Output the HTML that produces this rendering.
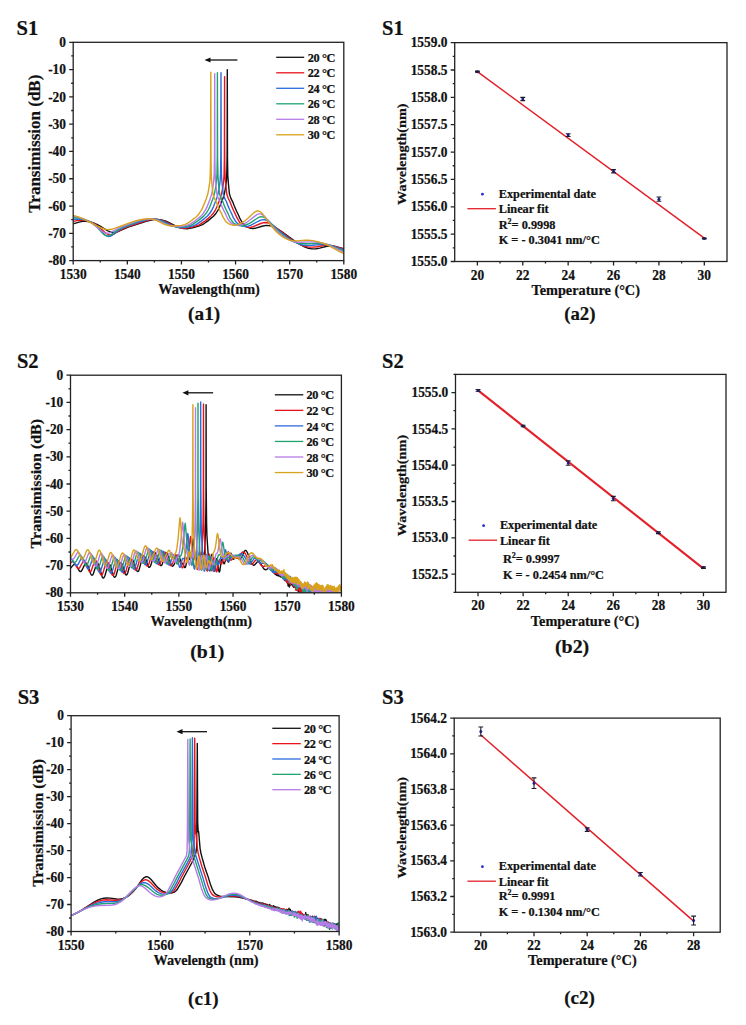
<!DOCTYPE html><html><head><meta charset="utf-8"><style>html,body{margin:0;padding:0;background:#fff;}svg{display:block;} text{font-family:"Liberation Serif",serif;stroke:#111;stroke-width:0.22px;}</style></head><body><svg width="746" height="1025" viewBox="0 0 746 1025" font-family='Liberation Serif, serif' fill="#111">
<rect width="746" height="1025" fill="#fff"/>
<clipPath id="ca1"><rect x="73.20" y="42.30" width="270.60" height="218.30"/></clipPath>
<path d="M73.2 223.8L79.0 222.1L82.7 221.4L86.2 221.3L89.8 221.8L93.2 222.8L96.9 224.4L100.6 226.4L106.9 230.3L109.2 231.5L111.7 232.3L114.1 232.5L115.8 232.3L117.8 231.7L128.2 227.2L147.0 221.1L152.6 219.7L155.1 219.4L157.5 219.4L161.3 219.9L165.2 221.0L168.6 222.5L176.4 226.3L180.2 227.9L183.6 228.6L187.0 228.7L189.7 228.4L192.6 227.8L198.7 226.1L201.8 224.9L203.8 223.8L207.6 221.1L213.5 216.3L215.9 213.5L218.3 209.6L219.6 206.7L222.9 198.6L224.2 194.3L225.2 189.4L226.4 181.1L226.8 173.1L227.1 155.3L227.3 69.6L227.5 157.9L227.8 175.5L228.4 183.5L229.4 193.8L230.4 196.9L231.3 199.2L232.6 201.6L234.3 206.0L236.6 211.3L238.0 214.0L239.6 217.8L241.9 222.0L243.7 224.2L245.8 226.1L248.1 227.4L249.8 228.1L251.0 228.4L252.9 228.5L254.9 228.3L262.9 226.0L266.2 225.4L269.4 225.6L272.9 226.6L276.5 228.3L281.0 231.1L295.8 241.7L300.1 244.5L304.5 246.9L308.4 248.3L312.1 248.9L316.1 248.8L319.7 248.1L326.9 246.2L330.5 245.8L335.0 246.4L343.8 248.6" stroke="#111111" stroke-width="1.40" fill="none" stroke-linejoin="round" clip-path="url(#ca1)"/>
<path d="M73.2 221.4L78.4 220.4L82.4 220.2L86.3 220.6L90.2 221.7L93.7 223.2L96.9 225.3L99.7 227.6L104.7 232.2L106.6 233.7L108.7 234.7L110.7 235.0L112.3 234.7L114.0 234.0L121.7 229.4L126.2 227.3L143.3 221.5L149.7 219.8L152.5 219.4L155.1 219.3L157.7 219.5L160.2 219.9L164.6 221.4L173.0 225.4L177.0 227.0L181.2 228.0L185.2 228.2L187.8 227.9L190.5 227.4L195.9 226.0L199.1 224.8L201.1 223.7L204.9 221.1L210.4 216.6L212.9 213.8L215.5 209.8L216.8 207.0L220.1 198.8L221.6 193.6L222.8 187.5L223.6 181.7L224.1 174.6L224.4 156.9L224.6 76.6L224.6 137.0L224.8 165.6L225.2 178.1L226.3 189.8L226.7 193.8L228.1 198.0L229.9 201.5L231.6 205.9L233.9 211.3L235.3 213.9L236.9 217.7L239.2 221.7L241.1 223.9L243.2 225.5L246.8 227.0L248.7 227.4L250.7 227.2L253.1 226.6L260.8 223.5L263.4 222.7L266.1 222.5L268.7 223.1L271.0 224.2L273.6 225.9L287.5 236.6L294.6 241.5L300.1 244.6L302.6 245.6L305.1 246.4L308.7 247.1L312.8 247.1L317.0 246.7L324.7 245.3L328.6 245.2L333.5 246.0L343.8 249.1" stroke="#e8131b" stroke-width="1.40" fill="none" stroke-linejoin="round" clip-path="url(#ca1)"/>
<path d="M73.2 219.3L78.0 219.0L82.1 219.3L86.3 220.2L90.3 221.8L93.4 223.6L96.3 225.8L98.6 228.1L103.2 233.2L105.0 235.0L107.0 236.1L108.8 236.5L110.3 236.2L111.9 235.5L119.2 230.0L123.7 227.6L128.0 225.9L139.6 221.9L146.8 219.9L149.8 219.4L152.6 219.2L155.4 219.3L158.0 219.7L162.2 221.0L170.5 225.0L174.5 226.5L179.1 227.5L183.6 227.6L186.6 227.3L190.7 226.4L193.6 225.6L195.8 224.7L197.7 223.6L201.5 220.9L207.2 216.3L209.6 213.5L212.1 209.6L213.4 206.7L216.6 198.6L217.9 194.3L218.9 189.4L220.1 181.3L220.5 173.5L220.8 155.9L221.0 72.6L221.2 158.3L221.5 175.9L222.1 183.6L223.2 193.8L224.1 196.9L225.2 199.4L226.4 201.5L228.0 205.9L230.4 211.2L231.8 213.9L233.2 217.4L235.5 221.2L237.3 223.3L239.7 224.9L243.5 226.3L245.8 226.5L248.2 226.1L251.0 225.1L258.7 221.0L260.9 220.1L263.1 219.6L265.1 219.8L267.3 220.7L269.8 222.4L280.2 231.7L287.5 237.5L293.3 241.3L298.2 243.6L302.8 245.0L307.3 245.5L312.1 245.3L322.4 244.4L326.9 244.6L332.2 245.8L343.8 249.9" stroke="#2b6be0" stroke-width="1.40" fill="none" stroke-linejoin="round" clip-path="url(#ca1)"/>
<path d="M73.2 217.6L77.5 217.8L81.5 218.6L85.8 219.9L89.7 221.6L92.6 223.4L95.3 225.6L97.6 227.8L101.9 232.6L103.7 234.3L105.7 235.5L107.6 235.9L109.1 235.7L110.8 234.9L117.9 229.8L122.6 227.3L136.7 222.0L140.8 220.7L144.5 219.8L147.7 219.3L150.7 219.1L153.4 219.1L156.0 219.5L160.0 220.7L168.1 224.6L171.8 225.9L176.7 226.9L181.5 227.1L188.0 226.0L190.5 225.3L192.6 224.4L197.9 220.9L203.7 216.1L206.1 213.3L208.5 209.5L209.8 206.7L213.0 198.6L214.3 194.3L215.3 189.4L216.5 181.2L217.0 173.5L217.3 155.7L217.4 72.8L217.6 158.3L218.0 175.9L218.5 183.6L219.6 193.8L220.5 196.9L221.6 199.4L222.8 201.5L224.4 205.9L226.8 211.2L228.2 213.8L229.6 217.3L231.9 221.0L233.9 223.3L236.4 224.7L240.2 225.7L243.0 225.7L245.8 225.0L248.9 223.7L251.9 221.9L256.9 218.5L258.8 217.4L260.9 216.7L262.8 216.9L264.9 217.8L267.3 219.6L276.3 229.1L282.4 234.7L288.3 238.9L291.0 240.5L293.6 241.7L297.8 243.1L302.3 243.7L306.1 243.8L318.3 243.3L321.6 243.5L324.5 243.8L327.6 244.5L330.8 245.6L343.8 250.9" stroke="#1fa370" stroke-width="1.40" fill="none" stroke-linejoin="round" clip-path="url(#ca1)"/>
<path d="M73.2 216.3L76.9 216.9L80.5 217.9L84.1 219.2L87.7 220.8L90.7 222.5L93.7 224.5L102.5 231.8L104.8 232.9L107.0 233.3L108.6 233.1L110.3 232.5L119.1 227.9L128.9 224.0L137.1 221.1L143.3 219.6L149.2 219.0L151.8 219.0L154.2 219.3L158.0 220.5L165.9 224.2L169.3 225.5L174.2 226.4L179.6 226.5L185.8 225.6L188.0 225.0L190.0 224.2L195.2 220.8L201.0 216.1L203.4 213.2L205.8 209.4L207.0 206.9L210.3 198.4L211.6 194.3L212.6 189.3L213.7 181.2L214.2 173.6L214.5 155.8L214.7 73.7L214.9 158.5L215.2 175.9L215.8 183.7L216.8 193.8L217.8 196.9L218.8 199.3L220.1 201.6L221.6 205.7L224.1 211.2L225.5 213.8L226.8 217.0L227.8 218.9L229.2 221.0L231.2 223.2L233.8 224.6L237.4 225.4L240.3 225.1L243.5 224.1L246.8 222.3L249.6 220.3L254.8 216.1L256.9 214.7L258.9 213.9L260.8 213.9L262.7 214.9L265.0 216.9L273.3 227.1L278.7 232.7L284.2 237.0L286.9 238.7L289.5 240.1L293.4 241.5L297.4 242.2L301.2 242.3L308.8 241.9L312.6 241.9L317.3 242.2L321.7 242.9L325.4 243.9L329.3 245.4L339.9 250.4L343.8 252.1" stroke="#b57ce8" stroke-width="1.40" fill="none" stroke-linejoin="round" clip-path="url(#ca1)"/>
<path d="M73.2 215.3L78.4 216.9L83.8 219.1L88.4 221.3L97.9 226.4L101.5 228.0L105.0 229.2L108.2 229.6L111.4 229.3L115.3 228.2L130.9 222.4L136.3 220.6L141.4 219.5L146.3 218.9L150.6 218.9L154.2 219.6L157.1 220.7L164.4 224.3L168.7 225.5L171.5 225.8L174.6 226.0L181.3 225.4L184.7 224.6L187.4 223.4L191.6 220.5L193.5 218.9L195.5 217.5L197.4 215.8L199.6 213.0L202.0 209.2L206.4 198.4L207.7 194.3L208.7 189.3L209.9 181.1L210.3 173.2L210.6 155.5L210.8 72.3L211.0 158.2L211.3 175.9L211.9 183.6L212.9 193.8L213.9 197.0L214.9 199.3L216.2 201.6L217.8 206.0L220.2 211.2L221.6 213.7L222.9 216.9L225.3 220.7L226.4 222.0L227.6 223.0L229.0 223.9L230.5 224.6L233.9 225.3L235.5 225.2L237.2 224.9L240.8 223.4L244.7 221.0L247.7 218.5L253.0 213.5L255.0 211.9L257.0 211.0L258.0 210.9L258.8 211.0L260.8 212.1L262.9 214.3L270.8 225.3L275.7 231.0L278.2 233.4L280.8 235.5L283.3 237.2L285.8 238.7L289.6 240.2L293.3 240.9L297.1 240.9L305.1 240.2L308.4 240.1L312.7 240.6L317.6 241.6L322.7 243.1L327.5 245.0L331.1 246.9L339.6 251.6L343.8 253.5" stroke="#d8a21a" stroke-width="1.40" fill="none" stroke-linejoin="round" clip-path="url(#ca1)"/>
<path d="M73.20 246.96H71.20M73.20 219.67H71.20M73.20 192.38H71.20M73.20 165.09H71.20M73.20 137.81H71.20M73.20 110.52H71.20M73.20 83.23H71.20M73.20 55.94H71.20M73.20 260.60H69.20M73.20 233.31H69.20M73.20 206.03H69.20M73.20 178.74H69.20M73.20 151.45H69.20M73.20 124.16H69.20M73.20 96.88H69.20M73.20 69.59H69.20M73.20 42.30H69.20M100.26 260.60V262.60M154.38 260.60V262.60M208.50 260.60V262.60M262.62 260.60V262.60M316.74 260.60V262.60M73.20 260.60V264.60M127.32 260.60V264.60M181.44 260.60V264.60M235.56 260.60V264.60M289.68 260.60V264.60M343.80 260.60V264.60" stroke="#222" stroke-width="1.30" fill="none"/>
<rect x="73.20" y="42.30" width="270.60" height="218.30" stroke="#222" stroke-width="1.30" fill="none"/>
<text x="0.0" y="0.0" font-size="13.40" text-anchor="end" font-weight="bold" transform="translate(66.00 265.25) scale(1 1.08)">-80</text>
<text x="0.0" y="0.0" font-size="13.40" text-anchor="end" font-weight="bold" transform="translate(66.00 237.96) scale(1 1.08)">-70</text>
<text x="0.0" y="0.0" font-size="13.40" text-anchor="end" font-weight="bold" transform="translate(66.00 210.68) scale(1 1.08)">-60</text>
<text x="0.0" y="0.0" font-size="13.40" text-anchor="end" font-weight="bold" transform="translate(66.00 183.39) scale(1 1.08)">-50</text>
<text x="0.0" y="0.0" font-size="13.40" text-anchor="end" font-weight="bold" transform="translate(66.00 156.10) scale(1 1.08)">-40</text>
<text x="0.0" y="0.0" font-size="13.40" text-anchor="end" font-weight="bold" transform="translate(66.00 128.81) scale(1 1.08)">-30</text>
<text x="0.0" y="0.0" font-size="13.40" text-anchor="end" font-weight="bold" transform="translate(66.00 101.53) scale(1 1.08)">-20</text>
<text x="0.0" y="0.0" font-size="13.40" text-anchor="end" font-weight="bold" transform="translate(66.00 74.24) scale(1 1.08)">-10</text>
<text x="0.0" y="0.0" font-size="13.40" text-anchor="end" font-weight="bold" transform="translate(66.00 46.95) scale(1 1.08)">0</text>
<text x="0.0" y="0.0" font-size="13.40" text-anchor="middle" font-weight="bold" transform="translate(73.20 278.70) scale(1 1.08)">1530</text>
<text x="0.0" y="0.0" font-size="13.40" text-anchor="middle" font-weight="bold" transform="translate(127.32 278.70) scale(1 1.08)">1540</text>
<text x="0.0" y="0.0" font-size="13.40" text-anchor="middle" font-weight="bold" transform="translate(181.44 278.70) scale(1 1.08)">1550</text>
<text x="0.0" y="0.0" font-size="13.40" text-anchor="middle" font-weight="bold" transform="translate(235.56 278.70) scale(1 1.08)">1560</text>
<text x="0.0" y="0.0" font-size="13.40" text-anchor="middle" font-weight="bold" transform="translate(289.68 278.70) scale(1 1.08)">1570</text>
<text x="0.0" y="0.0" font-size="13.40" text-anchor="middle" font-weight="bold" transform="translate(343.80 278.70) scale(1 1.08)">1580</text>
<path d="M276.2 57.30H304.2" stroke="#111111" stroke-width="1.3"/>
<text x="307.7" y="61.9" font-size="12.30" text-anchor="start" font-weight="bold" textLength="27.6" lengthAdjust="spacing">20 °C</text>
<path d="M276.2 72.80H304.2" stroke="#e8131b" stroke-width="1.3"/>
<text x="307.7" y="77.4" font-size="12.30" text-anchor="start" font-weight="bold" textLength="27.6" lengthAdjust="spacing">22 °C</text>
<path d="M276.2 88.30H304.2" stroke="#2b6be0" stroke-width="1.3"/>
<text x="307.7" y="92.9" font-size="12.30" text-anchor="start" font-weight="bold" textLength="27.6" lengthAdjust="spacing">24 °C</text>
<path d="M276.2 103.80H304.2" stroke="#1fa370" stroke-width="1.3"/>
<text x="307.7" y="108.4" font-size="12.30" text-anchor="start" font-weight="bold" textLength="27.6" lengthAdjust="spacing">26 °C</text>
<path d="M276.2 119.30H304.2" stroke="#b57ce8" stroke-width="1.3"/>
<text x="307.7" y="123.9" font-size="12.30" text-anchor="start" font-weight="bold" textLength="27.6" lengthAdjust="spacing">28 °C</text>
<path d="M276.2 134.80H304.2" stroke="#d8a21a" stroke-width="1.3"/>
<text x="307.7" y="139.4" font-size="12.30" text-anchor="start" font-weight="bold" textLength="27.6" lengthAdjust="spacing">30 °C</text>
<path d="M208.5 60.0H237.4" stroke="#111" stroke-width="1.3"/>
<path d="M204.5 60.0L210.5 57.4L210.5 62.6Z" fill="#111"/>
<text x="16.6" y="35.2" font-size="20.50" text-anchor="start" font-weight="bold" >S1</text>
<text x="209.0" y="294.0" font-size="14.30" text-anchor="middle" font-weight="bold" >Wavelength(nm)</text>
<text x="0.0" y="0.0" font-size="17.00" text-anchor="middle" font-weight="bold" transform="translate(40.2 143.7) rotate(-90)">Transimission (dB)</text>
<text x="188.1" y="320.4" font-size="19.20" font-weight="bold" textLength="32.1" lengthAdjust="spacingAndGlyphs">(a1)</text>
<clipPath id="cb1"><rect x="70.50" y="375.20" width="270.90" height="217.60"/></clipPath>
<path d="M70.5 568.2L73.4 564.9L74.2 564.5L74.9 564.4L75.6 564.8L76.4 565.8L79.3 570.9L80.0 571.5L80.7 571.6L81.3 571.1L82.1 570.0L84.9 564.1L85.6 563.4L86.2 563.3L87.0 563.9L87.7 565.4L90.8 574.0L91.4 575.0L92.1 575.2L92.7 574.8L93.5 573.3L96.4 564.5L97.0 563.5L97.6 563.3L98.2 563.9L99.0 565.6L102.0 576.3L102.7 577.6L103.3 578.1L104.1 577.5L104.9 575.8L107.9 565.5L108.5 564.4L109.2 564.1L109.8 564.6L110.6 566.2L113.5 575.8L114.2 577.0L114.8 577.3L115.5 576.8L116.1 575.5L119.0 565.2L119.8 563.3L120.5 562.6L121.1 562.7L121.9 563.8L124.9 573.2L125.7 574.6L126.1 575.0L126.4 575.0L127.1 574.4L127.7 573.0L130.5 562.8L131.3 560.8L131.9 560.0L132.6 559.9L133.3 560.9L136.4 569.8L137.1 571.2L137.6 571.5L137.9 571.5L138.6 570.9L139.3 569.1L142.0 559.1L142.7 557.3L143.3 556.2L143.6 555.9L144.1 555.9L144.8 556.8L145.7 558.8L148.0 565.7L148.7 567.1L149.2 567.4L149.5 567.4L150.1 566.7L150.9 565.1L153.9 554.7L154.7 553.3L155.3 552.9L156.0 553.4L156.6 554.6L159.5 563.5L160.1 564.9L160.8 565.6L161.4 565.5L162.2 564.4L165.3 554.8L166.1 553.4L166.8 552.9L167.5 553.4L168.1 554.7L170.7 563.6L171.4 565.2L172.0 566.0L172.5 566.2L172.9 566.1L174.0 564.7L175.2 561.9L177.1 556.1L177.7 555.1L178.1 554.9L178.5 555.1L179.0 555.9L181.0 561.9L181.6 562.7L182.9 563.9L184.4 567.1L184.7 567.5L185.0 567.6L185.4 567.2L185.8 566.0L187.2 558.6L187.9 556.4L188.2 556.2L188.5 556.6L189.7 559.5L190.1 559.5L190.5 558.6L191.3 554.1L192.9 540.3L193.2 538.8L193.6 540.6L194.7 554.4L195.4 560.0L195.7 560.9L196.0 560.8L197.2 555.6L197.5 555.0L197.7 555.3L198.3 558.2L199.3 567.5L199.7 569.1L200.0 569.4L200.5 567.0L201.6 555.9L202.2 552.5L202.4 552.3L202.7 553.3L203.6 559.1L203.8 559.2L204.1 558.0L204.6 551.5L205.3 537.3L205.7 520.3L206.0 497.8L206.1 404.8L206.2 486.3L206.6 523.8L206.9 534.8L207.6 546.1L209.0 565.9L209.4 569.4L209.7 570.9L210.0 570.7L210.3 569.1L211.5 556.7L212.0 554.2L212.2 554.4L212.6 555.9L213.8 567.8L214.3 571.2L214.5 571.4L214.6 571.4L215.0 570.3L216.2 560.6L216.5 559.1L216.8 558.6L217.1 559.2L217.4 560.7L218.7 570.4L219.0 571.6L219.3 572.0L219.6 571.6L219.9 570.5L221.2 561.1L221.9 559.1L222.1 559.1L222.4 559.6L223.4 562.8L223.9 563.8L224.3 563.7L224.6 563.1L225.8 559.3L226.3 558.5L226.9 558.8L228.1 561.7L228.4 562.0L228.6 561.9L229.2 560.3L230.3 554.5L230.7 553.3L230.9 553.2L231.2 553.7L232.4 557.9L233.1 559.1L233.5 559.2L233.9 559.0L235.5 556.6L236.3 556.2L237.0 556.7L238.8 558.8L239.3 559.2L239.9 559.1L240.6 558.6L241.4 557.6L244.4 551.2L245.1 550.5L245.7 550.4L246.5 551.0L247.3 552.5L251.2 562.3L252.2 564.1L253.1 565.0L253.7 565.2L254.5 565.0L257.3 562.0L258.1 561.5L258.7 561.5L259.4 561.9L260.1 562.7L263.2 567.9L263.9 568.9L264.7 569.5L265.4 569.7L266.6 569.5L267.4 568.9L267.7 568.9L268.0 568.4L268.1 568.6L268.6 568.0L268.7 568.4L268.8 568.1L269.0 568.2L269.1 567.9L269.7 568.0L269.8 567.9L269.9 568.1L270.0 567.9L270.2 568.3L270.4 567.8L270.7 568.9L270.9 568.6L271.2 569.0L271.5 569.8L271.6 569.2L271.7 570.0L271.9 570.3L272.0 569.8L272.3 570.9L272.4 570.1L272.5 570.4L272.6 570.2L272.9 571.7L273.0 570.8L273.1 571.2L273.2 570.8L273.3 571.9L273.6 572.1L273.7 572.0L273.9 572.7L274.2 572.1L274.3 573.1L274.4 572.7L274.7 573.0L274.8 572.5L275.1 574.3L275.2 573.9L275.4 573.8L275.5 573.3L275.7 574.4L276.1 573.8L276.3 575.2L276.6 574.2L276.7 574.7L277.0 574.4L277.3 574.6L277.5 575.5L277.6 575.6L277.8 575.4L277.9 575.9L278.0 574.9L278.3 575.6L278.6 574.0L278.8 575.3L278.9 574.4L279.0 575.8L279.1 574.5L279.4 576.0L279.6 575.4L279.9 576.4L280.2 575.0L280.3 575.4L280.4 575.1L280.5 576.9L280.7 575.9L280.8 576.6L280.9 575.7L281.0 576.5L281.2 576.0L281.3 577.2L281.5 574.9L281.7 576.3L281.8 575.5L282.0 576.3L282.1 575.1L282.2 576.9L282.5 575.4L282.6 576.7L282.8 575.9L283.1 578.1L283.2 575.6L283.4 577.7L283.5 577.1L283.6 577.5L283.8 574.3L283.9 576.9L284.0 576.2L284.2 577.3L284.3 576.8L284.4 577.3L284.5 580.1L284.8 576.8L284.9 578.7L285.1 577.0L285.4 580.9L285.5 577.2L285.7 580.4L285.8 579.6L286.0 580.0L286.1 578.5L286.2 580.2L286.4 579.3L286.6 580.8L286.7 578.8L286.9 581.5L287.0 579.1L287.1 582.8L287.2 582.9L287.3 581.6L287.5 581.5L287.8 583.9L287.9 582.8L288.0 585.7L288.1 582.0L288.3 586.0L288.4 583.3L288.6 584.9L288.7 583.3L288.8 584.0L289.0 583.6L289.1 585.3L289.3 583.5L289.4 587.1L289.5 582.7L289.8 585.8L289.9 581.8L290.0 583.3L290.1 581.1L290.3 585.2L290.5 582.7L290.6 583.9L290.8 584.2L290.9 579.9L291.2 584.8L291.3 580.6L291.7 583.5L292.0 581.7L292.1 583.4L292.3 582.0L292.5 585.4L292.6 582.1L292.7 586.1L293.0 582.4L293.1 585.7L293.2 581.7L293.4 586.9L293.5 585.0L293.6 586.6L293.7 584.3L293.8 587.4L293.9 583.8L294.0 585.3L294.3 585.5L294.4 583.8L294.5 586.3L294.7 587.3L294.9 584.8L295.0 587.3L295.1 583.8L295.2 586.6L295.5 586.3L295.6 586.7L295.9 582.3L296.1 587.5L296.3 585.4L296.4 587.7L296.8 586.1L296.9 589.2L297.1 587.0L297.2 587.5L297.3 586.6L297.4 588.3L297.6 587.6L297.9 588.5L298.2 591.7L298.3 587.9L298.4 591.0L298.6 589.3L298.8 593.0L298.9 589.6L299.1 592.9L299.4 589.9L299.5 589.5L299.7 591.6L299.8 589.5L300.0 591.7L300.1 589.3L300.3 590.0L300.4 591.7L300.5 590.7L300.7 591.0L300.9 590.6L301.0 590.9L301.2 593.2L301.3 590.1L301.4 590.4L301.5 590.0L301.6 590.9L301.7 589.7L301.8 592.3L302.0 590.3L302.1 591.1L302.2 590.1L302.3 590.3L302.6 594.9L302.7 592.0L302.8 591.2L303.0 591.8L303.1 589.9L303.3 591.3L303.4 590.1L303.6 594.3L303.8 591.0L303.9 591.5L304.0 590.4L304.2 591.3L304.3 594.9L304.4 591.2L304.8 591.9L305.1 591.3L305.2 596.4L305.3 594.5L305.4 595.4L305.5 594.4L305.6 594.6L305.9 595.5L306.0 598.2L306.1 595.5L306.2 596.4L306.3 595.1L306.4 598.0L306.5 594.2L306.7 597.0L306.8 595.0L307.0 596.2L307.3 594.1L307.5 600.4L307.6 595.6L307.7 599.7L307.9 596.1L308.0 598.5L308.2 596.4L308.6 599.6L308.9 595.7L309.0 597.0L309.1 595.8L309.2 599.9L309.3 596.7L309.7 600.9L309.8 597.0L309.9 597.9L310.3 598.5L310.4 599.6L310.5 596.4L310.7 600.3L310.8 595.5L311.0 598.5L311.1 598.3L311.2 599.4L311.4 596.5L311.5 600.4L311.6 600.5L311.7 598.4L311.9 602.1L312.0 598.8L312.1 602.9L312.5 599.0L312.6 603.8L312.7 599.7L312.8 599.9L312.9 599.0L313.0 601.4L313.2 597.3L313.4 604.1L313.7 597.0L313.9 601.4L314.2 597.4L314.3 599.0L314.4 596.1L314.5 598.9L314.6 597.8L314.7 598.6L314.9 599.0L315.0 598.5L315.1 599.1L315.2 595.8L315.5 600.5L315.6 598.7L315.8 600.4L315.9 598.0L316.0 601.5L316.2 599.8L316.3 602.1L316.4 600.0L316.5 602.2L316.6 599.5L316.7 601.6L316.8 600.3L316.9 602.9L317.0 598.2L317.1 600.2L317.2 598.6L317.6 604.7L317.7 600.7L317.8 603.4L317.9 599.8L318.2 605.8L318.4 602.7L318.5 604.1L318.8 603.0L318.9 604.3L319.1 600.6L319.3 609.0L319.5 602.4L319.7 603.9L319.8 601.0L319.9 609.4L320.2 603.6L320.4 602.0L320.5 603.5L320.6 601.5L320.8 605.8L320.9 602.8L321.0 604.9L321.4 603.1L321.5 606.0L321.9 602.5L322.5 607.0L322.7 605.7L322.8 607.6L323.0 608.3L323.1 607.1L323.2 609.1L323.4 606.4L323.5 608.3L323.6 604.5L323.7 608.7L323.8 605.8L324.0 606.9L324.1 605.3L324.4 609.4L324.6 607.7L324.7 610.6L324.8 603.9L324.9 609.2L325.1 605.1L325.3 605.4L325.4 604.5L325.5 606.9L325.6 604.3L325.7 605.5L325.8 604.4L325.9 604.7L326.0 606.3L326.2 604.3L326.3 607.0L326.6 605.3L326.7 607.6L326.8 605.8L327.0 606.9L327.1 605.3L327.3 607.6L327.7 602.6L328.2 607.9L328.3 604.7L328.4 606.0L328.5 605.3L328.7 609.2L329.0 605.2L329.3 607.3L329.4 607.4L329.5 605.7L329.7 609.8L329.9 604.9L330.1 609.6L330.2 606.4L330.3 605.8L330.5 607.3L330.6 604.3L330.7 604.0L330.8 606.5L330.9 601.9L331.1 606.5L331.3 604.8L331.5 606.6L331.8 602.8L331.9 605.5L332.0 603.6L332.1 604.4L332.2 600.8L332.4 605.5L332.5 603.8L332.7 607.7L332.9 606.7L333.2 608.7L333.4 606.4L333.7 611.9L333.8 607.8L333.9 610.7L334.0 608.3L334.2 610.5L334.5 610.3L334.7 612.0L334.8 610.0L334.9 612.9L335.1 611.2L335.2 613.5L335.3 612.6L335.4 614.3L335.5 611.6L335.7 612.3L335.8 611.8L335.9 612.8L336.1 611.9L336.2 613.3L336.3 611.0L336.5 613.0L336.7 610.8L336.8 612.6L337.0 612.4L337.2 608.9L337.3 611.3L337.5 609.9L337.6 609.6L337.7 610.1L337.8 608.4L338.0 611.5L338.1 608.7L338.3 610.8L338.5 607.4L338.8 610.7L339.0 610.0L339.1 611.5L339.2 608.6L339.3 610.2L339.4 608.3L339.7 613.2L339.8 608.2L340.0 610.8L340.1 607.9L340.3 610.1L340.4 607.3L340.7 609.9L341.0 606.9L341.2 611.6L341.4 607.8" stroke="#111111" stroke-width="1.40" fill="none" stroke-linejoin="round" clip-path="url(#cb1)"/>
<path d="M70.5 563.1L71.4 562.2L72.1 561.7L72.8 561.6L73.4 561.9L74.6 563.3L77.2 567.7L78.0 568.4L78.6 568.6L79.3 568.2L80.0 567.3L83.0 561.5L83.7 560.7L84.4 560.7L85.0 561.2L85.8 562.6L88.7 570.6L89.5 571.7L90.1 572.0L90.8 571.5L91.5 570.1L94.4 561.8L95.1 560.8L95.7 560.6L96.4 561.2L97.2 563.0L100.1 573.5L100.7 574.8L101.4 575.3L102.1 574.7L102.9 573.1L105.9 563.0L106.6 561.9L107.2 561.7L107.9 562.3L108.6 563.9L111.6 573.8L112.2 575.0L112.9 575.4L113.5 575.0L114.2 573.7L117.1 563.5L117.9 561.7L118.5 561.0L119.2 561.1L119.9 562.3L122.9 571.8L123.7 573.3L124.1 573.6L124.5 573.6L125.1 573.0L125.8 571.6L128.7 561.2L129.4 559.3L130.1 558.6L130.7 558.7L131.5 559.8L134.4 568.6L135.2 569.9L135.8 570.3L136.5 569.8L137.2 568.2L140.2 557.5L140.9 555.6L141.6 554.7L142.2 554.7L143.0 555.7L146.0 564.5L146.8 565.9L147.4 566.2L148.1 565.7L148.8 564.2L151.7 554.6L152.3 553.0L153.0 552.1L153.3 551.9L153.7 552.1L154.5 553.2L157.6 563.0L158.4 564.5L159.0 564.9L159.8 564.4L160.5 562.8L163.6 553.5L164.2 552.4L164.9 552.1L165.5 552.6L166.2 554.0L168.8 562.8L169.4 564.4L170.1 565.3L170.5 565.5L171.1 565.5L171.6 565.0L172.1 564.3L173.0 562.2L174.9 556.1L175.4 555.1L175.9 554.8L176.7 555.8L178.3 559.6L180.1 562.0L181.8 567.0L182.2 567.8L182.5 567.9L182.9 567.5L183.3 566.2L184.6 559.6L185.3 557.5L185.5 557.3L185.8 557.3L187.0 559.1L187.4 558.9L187.8 557.8L188.6 552.8L190.2 538.2L190.6 536.5L190.9 538.4L192.1 552.6L192.8 558.6L193.1 559.6L193.3 559.7L193.4 559.6L194.5 555.8L194.8 555.2L195.0 555.4L195.5 558.1L196.7 567.9L197.1 569.2L197.3 569.4L197.4 569.2L197.9 566.5L199.0 555.4L199.4 552.5L199.7 552.1L200.0 552.8L201.0 558.9L201.1 559.0L201.2 558.9L201.5 557.7L202.0 551.2L202.6 537.0L203.1 519.6L203.3 497.4L203.5 404.0L203.6 485.7L203.9 523.3L204.3 534.5L204.9 545.4L206.3 565.4L206.7 569.2L207.0 570.9L207.3 571.0L207.6 569.6L208.9 556.5L209.4 554.3L209.6 554.6L210.0 556.3L211.2 567.8L211.6 570.5L211.8 570.7L212.0 570.7L212.3 569.6L213.6 559.6L213.9 558.1L214.2 557.7L214.5 558.3L214.8 559.9L216.1 570.1L216.4 571.4L216.7 571.8L217.0 571.4L217.3 570.3L218.5 562.1L219.1 560.1L219.3 559.9L219.6 560.1L220.8 563.4L221.2 564.0L221.6 563.9L221.9 563.2L223.1 558.8L223.7 557.5L223.9 557.4L224.3 557.8L225.5 560.3L225.8 560.6L226.0 560.4L226.6 558.6L227.6 553.1L228.1 551.7L228.3 551.7L228.5 552.2L230.0 558.8L230.4 559.8L231.0 560.2L231.6 559.8L233.0 557.3L233.8 556.6L234.6 556.7L236.6 558.3L237.4 558.4L238.1 558.0L239.4 556.7L241.9 552.6L242.7 552.0L243.4 551.9L244.4 552.5L245.6 554.2L249.4 562.1L250.8 564.0L251.6 564.4L252.4 564.0L255.5 560.3L256.2 559.8L256.9 559.8L258.1 560.7L260.9 565.0L262.3 566.3L262.9 566.5L263.7 566.5L266.6 565.4L267.1 565.5L267.4 565.4L267.5 565.6L267.8 565.7L267.9 565.5L268.1 565.9L268.3 565.8L268.6 566.2L268.7 566.0L269.1 566.7L269.4 566.8L269.6 567.2L269.8 567.1L270.3 568.3L270.4 568.4L270.5 568.0L270.6 569.2L270.9 568.5L271.0 569.4L271.2 569.4L271.3 569.7L271.4 569.4L271.6 569.3L271.9 570.7L272.2 570.5L272.3 571.5L272.5 570.6L272.9 572.3L273.1 571.5L273.3 572.1L273.5 571.7L273.8 572.9L274.0 572.9L274.1 572.6L274.2 572.7L274.4 572.2L274.7 573.1L274.9 571.5L275.2 572.8L275.3 571.9L275.4 573.0L275.6 572.3L275.8 573.5L276.0 572.7L276.3 573.3L276.4 572.6L276.5 573.4L276.6 572.8L276.7 573.6L276.8 572.6L276.9 572.9L277.1 572.8L277.3 573.5L277.4 572.7L277.6 573.8L277.7 572.0L278.0 574.1L278.2 572.3L278.4 573.1L278.6 572.7L278.7 573.0L278.8 572.7L278.9 574.1L279.0 572.5L279.1 573.6L279.2 571.4L279.4 573.8L279.6 572.5L279.9 573.9L280.0 573.5L280.2 574.6L280.3 573.3L280.4 575.5L280.5 572.8L280.6 574.5L280.7 574.6L280.9 574.2L281.0 575.7L281.2 574.9L281.3 575.2L281.4 574.6L281.5 575.7L281.7 575.9L281.8 574.6L281.9 577.1L282.0 575.8L282.2 577.5L282.6 575.3L282.8 578.3L282.9 576.4L283.1 577.8L283.4 577.2L283.6 577.5L283.8 577.0L283.9 577.1L284.0 579.3L284.1 577.1L284.2 578.8L284.4 577.8L284.5 578.2L284.7 578.3L284.8 577.9L284.9 578.3L285.1 578.0L285.2 578.5L285.4 576.9L285.5 578.1L285.7 578.5L285.8 580.6L286.0 579.6L286.1 581.4L286.2 579.3L286.6 580.3L286.7 578.1L286.8 580.2L286.9 578.3L287.2 582.0L287.3 580.7L287.4 581.6L287.5 580.7L287.7 582.9L288.0 580.8L288.1 582.6L288.3 581.1L288.4 583.4L288.5 579.6L288.6 581.6L288.7 580.0L289.0 581.2L289.2 579.8L289.3 581.8L289.4 580.3L289.7 582.9L289.9 580.0L290.3 584.7L290.4 580.8L290.5 581.4L290.6 581.2L290.7 582.7L290.8 582.3L290.9 583.0L291.1 581.3L291.3 582.3L291.6 580.6L291.9 583.5L292.2 581.3L292.5 584.2L292.6 582.4L292.7 584.4L293.0 581.4L293.2 586.5L293.3 581.8L293.5 584.9L293.6 583.5L293.8 584.6L294.0 582.4L294.2 585.6L294.3 583.7L294.4 586.4L294.5 585.4L294.6 586.9L294.7 585.0L294.8 586.3L295.0 584.0L295.1 586.4L295.2 585.4L295.5 585.5L295.6 589.2L295.8 586.1L295.9 590.2L296.0 587.1L296.2 587.3L296.4 590.4L296.8 585.4L297.0 586.7L297.1 586.3L297.2 586.5L297.5 588.2L297.6 584.6L297.7 589.2L297.8 586.8L298.1 589.9L298.2 583.5L298.3 587.4L298.4 586.2L298.6 589.4L298.7 589.1L298.8 589.4L298.9 588.6L299.1 589.6L299.2 586.2L299.5 591.2L299.6 588.0L299.7 590.8L300.0 586.2L300.2 591.7L300.3 588.9L300.5 590.0L300.7 588.7L300.8 585.0L301.0 590.8L301.1 586.4L301.2 589.9L301.3 588.0L301.5 590.1L301.6 588.7L301.7 591.9L301.8 590.0L302.0 593.4L302.1 591.0L302.3 591.9L302.5 589.7L302.6 590.8L302.7 588.9L302.9 592.2L303.1 589.6L303.4 591.7L303.7 591.3L303.8 593.3L303.9 590.7L304.1 592.7L304.3 589.0L304.6 592.5L304.7 592.9L304.8 591.2L304.9 596.3L305.0 590.5L305.1 593.0L305.2 591.3L305.3 594.2L305.6 591.4L305.9 594.0L306.0 591.6L306.3 596.7L306.5 594.6L306.6 597.9L306.8 593.0L306.9 595.0L307.0 593.9L307.3 596.7L307.4 595.0L307.5 597.2L307.6 592.7L307.7 598.3L307.9 594.6L308.1 596.9L308.4 593.7L308.6 597.8L308.9 593.3L309.0 597.3L309.1 598.0L309.2 595.6L309.4 598.4L309.5 594.6L309.7 598.2L309.8 592.5L309.9 597.1L310.0 594.4L310.4 596.4L310.5 598.9L310.7 594.4L310.8 599.4L311.2 595.3L311.3 597.5L311.4 595.8L311.5 596.2L311.6 598.5L311.8 596.9L312.0 600.1L312.1 597.5L312.3 600.4L312.4 598.5L312.5 598.2L312.6 599.0L312.7 595.5L312.9 596.8L313.0 596.5L313.1 596.7L313.2 596.2L313.3 598.6L313.4 594.6L313.6 597.9L313.7 598.2L313.9 595.4L314.0 596.0L314.1 595.9L314.2 598.0L314.4 598.8L314.5 596.8L314.6 597.6L314.7 596.3L314.9 597.3L315.0 596.1L315.1 597.2L315.2 595.7L315.7 599.5L315.8 596.6L316.0 598.9L316.2 596.3L316.4 599.8L316.6 596.7L316.7 598.5L316.8 598.7L316.9 597.7L317.2 599.7L317.3 598.2L317.5 601.7L317.8 599.1L317.9 600.8L318.0 601.2L318.1 600.9L318.3 596.8L318.4 600.8L318.5 599.3L318.6 600.9L318.9 599.7L319.0 601.2L319.1 599.8L319.3 603.4L319.4 597.1L319.9 605.1L320.2 601.3L320.3 604.9L320.4 600.7L320.6 605.2L320.9 600.2L321.1 602.7L321.4 601.2L321.5 604.8L321.6 600.3L322.1 604.2L322.2 603.5L322.3 603.3L322.4 603.7L322.8 602.2L322.9 603.9L323.0 600.5L323.2 602.5L323.4 600.6L323.6 604.1L323.7 603.0L323.8 603.6L324.0 602.2L324.1 603.2L324.4 598.5L324.6 605.6L324.8 602.5L324.9 603.5L325.0 600.0L325.1 601.2L325.3 598.7L325.7 604.3L325.9 599.3L326.1 603.0L326.3 600.6L326.4 601.3L326.7 601.4L326.8 599.9L326.9 601.1L327.0 598.9L327.1 604.3L327.2 600.6L327.3 604.1L327.5 599.6L327.7 606.1L327.9 601.3L328.0 604.8L328.1 600.9L328.3 605.8L328.6 605.8L328.7 603.2L328.8 604.1L329.2 604.3L329.6 608.2L329.8 604.9L329.9 607.5L330.1 604.9L330.2 607.7L330.3 605.8L330.5 607.2L330.7 606.9L330.8 607.3L330.9 607.0L331.0 607.2L331.1 603.4L331.3 605.8L331.5 601.9L331.6 606.9L332.0 604.7L332.1 605.2L332.2 600.1L332.4 604.4L332.5 603.9L332.6 604.3L332.7 603.8L332.8 602.3L332.9 605.4L333.3 604.1L333.4 606.0L333.7 604.0L333.8 606.7L333.9 605.0L334.0 607.5L334.1 605.1L334.4 604.2L334.6 607.3L334.7 602.8L334.8 608.0L334.9 606.7L335.1 606.7L335.3 608.2L335.9 602.4L336.2 606.6L336.3 604.3L336.4 605.6L336.5 604.2L336.6 606.2L336.8 603.4L337.0 605.8L337.1 602.2L337.3 602.2L337.4 604.4L337.5 603.6L337.6 604.2L337.7 602.3L337.8 602.6L337.9 602.0L338.3 607.3L338.5 603.4L338.7 607.0L339.0 601.7L339.2 605.6L339.4 602.7L339.7 604.2L339.9 602.5L340.0 606.3L340.1 603.8L340.2 606.8L340.4 607.5L340.6 602.6L340.7 605.8L341.0 604.9L341.1 606.3L341.2 606.7L341.3 606.1L341.4 606.4" stroke="#e8131b" stroke-width="1.40" fill="none" stroke-linejoin="round" clip-path="url(#cb1)"/>
<path d="M70.5 558.8L71.3 558.9L72.0 559.5L75.2 564.5L75.9 565.3L76.6 565.5L77.3 565.2L78.1 564.3L81.1 558.6L81.9 558.0L82.5 558.1L83.2 558.7L83.9 560.1L86.8 567.4L87.4 568.4L88.1 568.8L88.8 568.3L89.6 567.0L92.5 559.0L93.3 558.0L93.9 557.9L94.6 558.7L95.3 560.5L98.1 570.5L98.8 571.8L99.4 572.3L100.2 571.8L100.9 570.2L104.0 560.3L104.6 559.3L105.3 559.0L105.9 559.7L106.7 561.4L109.6 571.5L110.4 572.9L111.0 573.3L111.7 572.7L112.3 571.4L115.1 561.7L115.9 559.9L116.6 559.2L117.2 559.4L118.0 560.6L121.0 570.3L121.8 571.8L122.2 572.2L122.5 572.2L123.2 571.6L123.8 570.2L126.7 559.8L127.5 558.0L128.1 557.3L128.8 557.4L129.6 558.5L132.5 567.3L133.2 568.7L133.9 569.1L134.5 568.6L135.3 567.0L138.2 556.3L139.0 554.3L139.6 553.5L140.3 553.4L141.0 554.4L144.1 563.2L144.8 564.5L145.3 564.9L145.6 564.9L146.2 564.3L147.0 562.6L150.1 552.1L150.9 550.9L151.3 550.7L151.7 550.8L152.3 551.6L153.0 553.1L155.8 562.3L156.5 563.6L157.2 564.0L157.8 563.5L158.6 562.0L161.6 552.6L162.3 551.5L162.8 551.2L163.5 551.6L164.1 552.9L166.8 561.7L167.6 563.5L168.3 564.6L168.8 564.9L169.2 564.9L170.0 564.1L170.7 562.2L172.6 556.0L173.1 555.0L173.7 554.8L174.2 555.3L177.1 559.0L177.8 560.8L179.2 566.3L179.6 567.3L179.9 567.4L180.3 567.1L180.7 565.9L181.9 560.5L182.4 558.8L183.0 558.3L183.8 558.9L184.2 558.9L184.5 558.4L184.9 557.1L185.8 551.6L187.5 535.4L187.8 533.5L188.2 535.5L189.3 550.0L190.1 556.4L190.4 557.6L190.7 557.9L191.8 555.2L192.1 555.0L192.3 555.5L192.7 557.7L193.9 567.3L194.2 568.8L194.6 569.1L195.1 566.9L196.3 554.9L196.7 552.4L197.0 552.0L197.3 552.9L198.2 558.6L198.3 558.7L198.4 558.6L198.7 557.4L199.2 550.9L199.9 536.7L200.3 519.6L200.5 497.0L200.7 401.9L200.8 485.1L201.2 523.3L201.5 534.5L202.1 545.7L203.5 565.8L203.9 569.5L204.3 571.1L204.5 571.0L204.9 569.5L206.1 557.4L206.6 554.8L206.8 554.9L207.1 556.3L208.3 567.3L208.9 570.2L209.0 570.4L209.2 570.3L209.5 569.1L210.8 558.8L211.1 557.2L211.4 556.7L211.7 557.3L212.0 559.0L213.4 569.6L213.7 571.0L214.0 571.4L214.5 570.0L215.7 563.0L216.2 561.0L216.5 560.8L216.8 561.0L218.0 564.1L218.3 564.6L218.6 564.5L219.2 563.3L220.4 558.1L220.9 556.6L221.2 556.4L221.6 556.6L222.7 558.6L223.1 558.7L223.4 558.2L223.9 556.3L224.9 550.7L225.3 549.6L225.8 550.6L227.3 558.7L227.8 560.4L228.4 561.0L228.7 561.0L229.0 560.7L230.7 557.8L231.4 557.0L232.2 556.8L234.2 557.2L235.7 556.9L237.0 556.2L239.3 554.3L240.4 553.8L241.2 553.9L242.0 554.2L243.8 555.6L245.1 557.5L247.7 562.5L248.4 563.4L249.2 563.9L249.9 563.9L250.7 563.3L254.0 558.7L254.7 558.2L255.5 558.3L256.6 559.2L258.9 562.1L260.1 563.0L261.4 563.3L264.6 563.1L266.3 563.7L267.6 564.9L268.3 566.3L268.6 566.3L268.9 567.2L269.2 567.6L269.3 567.5L269.7 568.5L269.9 568.4L270.0 569.0L270.2 568.8L270.4 569.6L270.7 569.3L271.1 570.5L271.2 570.3L271.3 570.6L271.4 570.2L272.2 571.8L272.5 571.1L272.6 571.8L272.8 571.6L273.1 571.6L273.2 572.2L273.3 571.6L273.6 571.9L273.8 571.2L274.0 571.6L274.2 571.4L274.3 572.3L274.4 571.5L274.7 572.6L274.8 571.0L275.0 572.0L275.1 571.6L275.3 571.7L275.5 570.9L275.6 571.7L275.7 571.6L275.8 572.2L276.0 571.7L276.1 572.4L276.4 570.8L276.5 572.0L276.7 571.3L276.8 572.1L276.9 570.8L277.1 571.4L277.4 569.9L277.5 571.5L277.7 569.6L277.8 571.3L277.9 570.6L278.1 570.9L278.2 571.8L278.4 571.0L278.6 571.8L278.7 571.0L278.9 572.2L279.2 570.4L279.3 573.1L279.4 572.1L279.5 573.3L279.7 572.9L279.9 573.0L280.0 575.0L280.1 574.0L280.3 574.0L280.4 574.5L280.5 573.5L280.7 575.2L280.8 574.0L281.2 575.5L281.3 574.4L281.4 575.2L281.5 574.4L281.6 575.7L281.8 576.1L282.0 574.9L282.1 576.3L282.2 575.6L282.5 577.1L282.6 576.7L282.7 576.8L282.8 576.1L283.0 578.7L283.3 576.8L283.4 578.3L283.5 576.2L283.8 579.2L283.9 577.2L284.0 579.6L284.1 578.1L284.2 578.3L284.3 577.8L284.4 578.0L284.5 577.0L284.7 578.4L284.8 576.6L284.9 578.5L285.1 577.0L285.4 579.0L285.6 577.6L285.8 577.8L285.9 580.0L286.0 577.2L286.2 578.7L286.5 577.5L286.7 578.6L286.8 577.9L286.9 578.4L287.1 577.7L287.2 577.8L287.3 577.6L287.4 576.5L287.5 578.6L287.7 576.3L287.8 577.3L287.9 576.7L288.1 578.5L288.6 576.1L288.7 578.2L288.8 576.8L289.0 580.5L289.2 577.9L289.3 579.2L289.4 578.4L289.5 579.7L289.7 578.1L289.8 579.1L289.9 578.4L290.0 580.1L290.3 576.9L290.4 577.8L290.5 576.4L290.8 581.0L291.0 580.8L291.1 579.4L291.7 582.3L291.9 579.1L292.2 582.0L292.4 581.3L292.5 582.3L292.6 581.6L292.7 582.5L292.9 582.4L293.0 581.0L293.1 584.2L293.3 584.8L293.4 581.7L293.6 584.6L293.7 582.5L293.8 584.9L293.9 583.4L294.2 585.4L294.4 584.1L294.7 585.7L294.8 583.9L295.0 586.4L295.1 582.7L295.2 583.9L295.3 583.1L295.5 585.5L295.6 583.4L295.7 584.0L295.8 583.2L295.9 584.6L296.0 582.8L296.1 585.4L296.2 582.9L296.3 585.0L296.4 584.4L296.5 584.8L296.6 584.6L296.8 580.6L296.9 581.9L297.0 582.1L297.1 581.9L297.2 585.3L297.3 581.8L297.5 586.1L297.6 583.4L297.8 585.8L297.9 584.6L298.1 584.5L298.4 585.4L298.5 583.7L298.7 587.1L298.8 585.2L299.0 585.4L299.2 583.4L299.4 585.9L299.7 583.3L299.8 585.6L300.0 582.5L300.1 586.3L300.3 585.0L300.5 586.8L300.8 584.5L301.0 585.8L301.1 583.1L301.2 586.0L301.4 585.6L301.6 588.3L302.0 584.1L302.2 586.3L302.3 584.8L302.4 589.0L302.5 586.2L302.6 590.4L302.7 586.9L302.8 589.9L302.9 589.2L303.0 585.6L303.3 590.3L303.4 587.8L303.5 591.5L303.6 590.7L303.7 592.3L304.0 590.1L304.1 590.9L304.2 590.6L304.3 589.2L304.6 592.9L304.7 593.2L304.8 590.1L304.9 592.2L305.0 592.8L305.1 591.9L305.2 595.1L305.3 590.1L305.4 593.9L305.9 589.2L306.4 594.6L306.6 591.6L306.7 594.6L306.8 593.4L306.9 595.7L307.0 594.9L307.3 595.1L307.4 593.8L307.6 596.8L307.7 594.8L307.8 596.2L308.1 595.0L308.2 597.3L308.5 594.3L308.7 597.1L308.9 591.4L309.0 594.1L309.2 593.3L309.3 595.6L309.4 594.4L309.5 595.2L309.8 591.2L309.9 594.6L310.1 593.6L310.2 594.6L310.3 594.3L310.4 592.9L310.5 595.2L310.6 594.8L310.7 596.0L311.0 591.6L311.1 596.2L311.2 591.7L311.3 593.4L311.5 590.2L311.7 594.7L311.8 592.3L312.1 590.5L312.3 595.4L312.4 592.3L312.6 595.5L312.8 591.7L313.0 596.5L313.1 592.4L313.2 596.3L313.3 592.1L313.4 595.9L313.6 592.8L313.7 594.8L313.8 592.6L314.0 596.5L314.1 592.9L314.3 596.9L314.6 593.7L314.7 596.9L315.1 592.8L315.3 598.8L315.5 594.7L315.6 597.2L315.7 596.3L315.8 597.4L315.9 594.4L316.0 597.3L316.2 595.4L316.3 599.0L316.5 595.5L316.6 597.9L316.7 598.6L316.8 598.2L316.9 600.0L317.0 597.2L317.5 600.8L317.6 596.5L317.8 598.7L317.9 596.8L318.1 597.1L318.4 596.6L318.9 600.2L319.0 597.7L319.1 599.9L319.4 596.8L319.5 599.1L319.6 597.7L319.7 600.1L319.9 594.6L320.1 598.2L320.3 597.5L320.4 599.1L320.5 597.7L320.7 600.3L320.9 596.5L321.0 598.8L321.2 596.6L321.6 599.4L321.8 598.1L322.0 599.8L322.1 599.0L322.2 600.1L322.3 597.5L322.4 598.9L322.5 597.9L322.7 599.5L322.8 598.5L322.9 599.8L323.1 595.4L323.3 598.0L323.4 595.4L323.5 600.6L323.8 595.6L324.1 599.0L324.3 595.1L324.4 597.1L324.5 593.8L324.9 596.5L325.0 595.3L325.1 596.6L325.3 594.6L325.4 597.7L325.5 597.1L325.8 597.8L325.9 600.4L326.1 597.8L326.2 598.2L326.3 595.7L326.4 597.6L326.6 595.0L326.7 598.8L326.8 595.7L327.0 599.7L327.1 598.7L327.2 599.5L327.3 599.6L327.4 598.6L327.5 599.4L327.6 598.9L327.7 599.4L327.9 596.0L328.1 600.6L328.2 599.0L328.3 599.3L328.4 599.2L328.5 595.6L328.6 601.3L328.7 599.2L328.8 601.6L329.0 596.8L329.4 602.5L329.5 599.8L329.7 601.8L329.9 598.7L330.0 598.3L330.1 598.8L330.2 598.4L330.5 603.0L330.6 600.3L330.7 601.6L330.8 601.9L330.9 601.4L331.1 602.6L331.2 600.8L331.5 604.9L331.6 604.1L331.9 604.5L332.0 602.9L332.1 604.4L332.3 602.1L332.4 607.9L332.5 603.1L332.6 603.0L332.7 603.4L332.8 601.9L333.1 604.1L333.2 602.8L333.4 602.9L333.5 602.6L333.6 603.1L333.8 600.1L333.9 603.8L334.0 597.3L334.2 602.0L334.6 598.2L334.7 600.1L334.8 597.1L334.9 600.7L335.1 599.1L335.3 601.6L335.5 600.7L335.7 601.5L335.8 601.0L335.9 601.7L336.0 599.8L336.1 601.4L336.2 600.1L336.3 601.8L336.4 599.3L336.7 603.7L336.8 602.4L337.0 602.5L337.1 601.9L337.2 603.8L337.3 604.2L337.5 603.2L337.6 603.4L337.7 605.0L337.8 602.0L337.9 604.7L338.0 603.0L338.1 603.8L338.3 599.7L338.4 602.1L338.6 599.6L338.7 603.1L338.9 604.3L339.0 602.0L339.2 606.0L339.3 600.3L339.4 603.8L339.6 602.9L339.8 604.4L339.9 603.2L340.0 603.5L340.3 607.5L340.4 604.0L340.5 604.5L340.6 603.2L341.0 606.2L341.3 603.6L341.4 604.7" stroke="#2b6be0" stroke-width="1.40" fill="none" stroke-linejoin="round" clip-path="url(#cb1)"/>
<path d="M70.5 557.2L73.3 561.6L74.1 562.3L74.8 562.4L75.5 562.0L76.2 561.1L79.1 556.0L79.8 555.3L80.6 555.3L81.2 555.9L82.0 557.3L84.8 564.3L85.6 565.4L86.2 565.6L86.9 565.2L87.6 563.9L90.5 556.2L91.3 555.3L92.0 555.2L92.6 555.9L93.4 557.7L96.3 567.6L96.9 568.9L97.6 569.3L98.2 568.8L99.0 567.2L101.9 557.7L102.7 556.4L103.3 556.2L104.0 556.9L104.7 558.7L107.7 569.0L108.4 570.4L109.1 570.8L109.7 570.3L110.5 568.8L113.5 558.7L114.3 557.4L114.9 557.2L115.6 557.9L116.3 559.6L119.2 568.9L119.9 570.3L120.6 570.6L121.2 570.1L121.9 568.7L124.8 558.4L125.4 556.8L126.1 556.0L126.7 556.0L127.5 557.0L130.5 566.1L131.3 567.5L131.7 567.8L132.0 567.8L132.7 567.2L133.5 565.5L136.2 555.4L136.8 553.6L137.5 552.4L137.8 552.2L138.2 552.1L139.0 553.0L139.9 555.0L142.1 561.8L142.9 563.1L143.3 563.4L143.6 563.4L144.3 562.8L145.1 561.1L148.1 550.9L148.7 549.6L149.4 549.2L150.0 549.6L150.7 550.8L153.5 560.1L154.3 561.9L154.9 562.6L155.2 562.7L155.7 562.5L156.4 561.3L159.5 552.0L160.2 550.6L160.9 550.2L161.5 550.8L162.2 552.0L165.1 561.0L165.9 562.7L166.5 563.7L167.2 563.8L167.8 563.1L170.2 555.8L170.8 554.7L171.5 554.4L173.8 554.9L174.4 555.6L175.2 557.6L176.6 563.1L177.0 563.9L177.3 564.1L177.7 563.8L178.1 562.8L179.7 557.0L180.2 556.2L181.2 555.0L182.1 552.0L183.2 544.0L184.8 525.5L185.2 523.3L185.5 525.3L186.8 541.1L187.6 548.8L188.3 551.2L188.5 551.5L189.2 551.6L189.6 552.4L191.3 563.7L191.8 565.2L192.1 565.3L192.6 563.3L193.7 554.0L194.1 551.8L194.4 551.7L194.6 552.1L195.5 557.7L195.8 557.8L196.0 556.7L196.6 550.5L197.2 536.6L197.6 519.6L197.9 497.1L198.0 403.2L198.1 485.9L198.5 523.7L198.9 534.8L199.5 546.4L200.9 565.2L201.3 568.7L201.7 570.2L201.9 570.1L202.3 568.6L203.5 557.2L204.0 555.1L204.2 555.4L204.5 556.9L205.7 567.4L206.3 569.7L206.6 569.4L206.9 568.2L208.1 558.1L208.7 555.9L209.0 556.2L209.3 557.4L210.6 567.4L211.2 570.0L211.5 569.9L211.8 569.1L213.1 562.6L213.6 561.1L213.9 561.0L214.2 561.3L215.4 564.3L215.7 564.5L215.9 564.4L216.6 562.7L217.8 557.0L218.3 555.2L218.8 554.6L219.7 554.8L220.0 554.7L220.6 553.6L221.2 550.5L222.3 543.3L222.5 542.5L222.7 542.3L223.2 543.8L225.0 556.1L225.7 558.5L226.3 559.4L227.0 559.2L228.4 557.4L229.1 556.7L232.1 555.8L236.7 555.3L240.5 555.9L241.6 556.3L242.5 557.1L245.8 562.8L246.7 563.7L247.5 563.9L248.2 563.6L249.0 562.8L252.2 557.6L253.2 556.9L254.2 556.9L255.0 557.4L257.5 559.4L258.9 560.2L260.6 560.8L263.3 561.3L264.6 562.0L266.1 563.7L267.5 565.9L268.4 567.7L268.5 567.4L268.8 568.0L269.0 568.0L269.3 568.8L269.6 568.7L269.7 569.1L269.9 568.8L270.2 569.3L270.4 569.5L270.5 569.4L270.6 569.9L271.0 568.9L271.2 569.9L271.5 569.3L271.6 570.0L271.7 569.7L271.8 570.1L272.2 569.3L272.3 570.0L272.4 569.0L272.7 569.8L273.0 569.1L273.1 569.3L273.2 568.8L273.6 569.8L273.7 569.3L273.9 569.4L274.1 569.1L274.2 569.6L274.3 569.2L274.8 569.2L274.9 568.4L275.0 569.3L275.2 567.9L275.3 569.5L275.5 569.9L275.7 568.7L276.0 570.0L276.2 570.2L276.3 569.9L276.5 570.3L276.6 570.1L276.8 570.4L276.9 569.7L277.1 571.0L277.4 569.6L277.5 570.9L277.7 570.3L277.8 571.7L277.9 571.3L278.1 572.4L278.2 572.1L278.3 572.3L278.4 571.7L278.7 571.5L278.8 572.9L279.1 572.1L279.3 573.7L279.4 572.9L279.6 574.4L280.0 573.7L280.1 574.7L280.3 573.6L280.4 574.6L280.5 573.9L280.6 574.7L280.7 574.1L280.8 575.4L280.9 574.8L281.2 574.5L281.3 574.9L281.4 574.5L281.6 576.3L281.8 576.1L281.9 577.0L282.1 575.8L282.5 576.8L282.6 576.1L282.8 577.0L283.0 576.3L283.3 576.6L283.4 575.6L283.8 578.5L284.1 575.1L284.2 577.1L284.4 577.5L284.5 575.2L284.7 574.8L284.8 576.2L284.9 574.1L285.3 576.5L285.4 574.3L285.5 576.1L285.6 575.1L285.7 577.7L285.8 574.8L286.0 576.6L286.2 574.0L286.5 576.2L286.6 574.9L286.7 576.1L286.8 575.8L286.9 575.9L287.1 576.8L287.2 576.0L287.5 579.7L287.7 574.6L287.9 578.1L288.0 576.5L288.2 578.6L288.4 576.8L288.5 580.4L288.6 578.4L288.7 578.2L288.8 578.3L289.0 580.1L289.2 578.3L289.4 582.9L289.7 578.2L289.9 581.8L290.5 577.4L290.6 582.8L290.8 578.1L291.0 581.1L291.1 578.9L291.4 581.0L291.6 579.1L291.7 580.2L291.9 579.0L292.0 582.2L292.1 580.3L292.3 582.3L292.4 580.1L292.5 582.6L292.7 578.4L293.3 582.6L293.4 581.6L293.5 582.1L293.6 581.6L293.8 582.7L293.9 585.0L294.0 581.9L294.3 585.3L294.5 581.3L294.6 584.7L294.7 582.6L294.9 584.4L295.0 583.9L295.2 585.0L295.5 583.4L295.7 584.1L296.0 587.3L296.1 582.9L296.3 588.7L296.4 585.6L296.8 588.6L296.9 584.2L297.2 586.2L297.3 583.5L297.5 584.2L297.6 589.0L297.7 583.2L297.8 587.1L297.9 584.4L298.1 585.5L298.2 583.6L298.3 584.5L298.4 582.0L298.5 585.3L298.6 582.2L298.7 584.3L298.8 584.5L298.9 584.3L299.0 585.8L299.1 582.9L299.2 584.2L299.5 583.0L299.6 584.5L299.8 583.9L299.9 584.4L300.0 582.0L300.4 586.8L300.5 583.1L300.7 584.0L300.8 583.1L300.9 583.2L301.3 587.2L301.4 583.9L301.5 587.3L301.6 585.2L301.7 588.9L301.8 584.9L302.1 587.2L302.2 585.4L302.6 589.8L302.7 587.7L302.8 591.5L302.9 587.3L303.1 590.3L303.4 591.0L303.5 588.6L303.7 591.8L303.8 589.3L303.9 592.2L304.1 586.9L304.4 592.7L304.7 591.5L304.8 591.7L305.0 589.7L305.1 591.7L305.2 588.7L305.3 588.3L305.4 589.0L305.5 587.4L305.6 591.1L306.1 588.3L306.2 588.9L306.3 588.3L306.4 590.9L306.5 590.7L306.6 588.2L306.7 591.9L306.9 588.2L307.3 591.9L307.4 589.3L307.5 590.1L307.6 588.6L307.8 591.4L308.0 588.7L308.1 589.1L308.2 588.3L308.4 590.8L308.5 589.6L308.6 590.7L308.8 586.8L308.9 589.6L309.2 586.6L309.5 589.2L309.8 587.2L309.9 589.6L310.2 585.5L310.3 590.3L310.4 586.8L310.6 589.7L310.7 586.9L311.0 590.8L311.2 586.0L311.4 591.1L311.5 588.4L311.7 590.5L311.8 589.1L311.9 590.2L312.0 587.5L312.4 593.1L312.7 589.7L312.8 591.2L312.9 589.6L313.1 595.7L313.3 592.1L313.6 593.6L313.7 591.9L313.9 595.8L314.0 591.6L314.1 591.2L314.2 593.8L314.4 591.5L314.5 593.0L314.6 590.2L314.7 593.3L314.9 592.6L315.1 593.3L315.2 591.0L315.3 594.6L315.4 592.0L315.5 593.8L315.6 591.3L315.8 592.0L315.9 591.8L316.0 593.4L316.3 591.6L316.4 591.7L316.5 594.6L316.6 591.5L316.9 595.1L317.0 591.0L317.2 594.0L317.3 594.2L317.5 594.0L317.6 594.5L317.7 593.9L317.9 594.8L318.2 593.0L318.3 590.2L318.5 595.2L318.6 592.2L319.0 594.2L319.2 590.3L319.3 592.7L319.4 590.9L319.5 592.8L319.6 592.1L319.7 593.3L319.8 591.4L320.2 595.2L320.4 592.5L320.5 594.6L320.6 592.5L320.8 595.0L321.1 591.2L321.4 597.4L321.6 594.6L321.9 596.3L322.0 593.3L322.1 595.1L322.2 592.4L322.3 595.0L322.8 591.9L323.0 595.7L323.2 592.4L323.3 593.7L323.4 592.2L323.6 595.8L323.7 593.8L324.0 599.1L324.1 592.8L324.4 593.3L324.6 597.0L325.0 594.7L325.3 596.3L325.6 595.5L325.7 597.5L325.8 595.2L325.9 596.7L326.1 596.1L326.3 598.5L326.4 594.5L326.7 596.6L327.0 596.4L327.1 594.5L327.2 597.2L327.3 594.8L327.4 597.3L327.6 595.1L327.7 596.9L327.9 596.5L328.2 597.6L328.3 597.0L328.4 597.5L328.5 593.6L328.6 597.8L328.7 596.4L328.8 598.5L328.9 594.8L329.3 599.3L329.9 595.1L330.0 598.0L330.1 595.3L330.5 599.8L330.6 596.3L330.9 599.3L331.2 595.1L331.5 594.4L331.6 595.7L332.0 592.3L332.2 593.2L332.4 598.2L332.7 594.2L332.8 599.5L333.1 594.0L333.4 596.7L333.5 594.7L333.7 596.3L333.8 592.7L334.0 596.6L334.1 597.1L334.2 595.4L334.5 597.1L334.7 595.7L334.8 597.9L335.0 595.6L335.1 596.5L335.3 593.8L335.4 597.5L335.5 594.4L335.7 595.3L335.8 594.9L335.9 593.1L336.1 595.6L336.2 593.1L336.4 595.3L336.5 593.7L336.6 594.2L336.7 593.4L337.0 595.0L337.1 592.0L337.3 597.5L337.4 593.6L337.5 597.3L337.7 595.4L337.9 597.0L338.0 597.4L338.1 597.3L338.4 595.3L338.6 600.7L338.9 598.3L339.0 599.6L339.1 595.3L339.2 598.7L339.3 597.1L339.4 596.6L339.6 597.4L339.7 596.2L339.8 599.1L339.9 598.5L340.1 600.3L340.2 596.6L340.4 599.2L340.5 598.5L340.6 599.3L340.7 597.3L340.9 599.0L341.1 594.4L341.2 599.9L341.3 599.7L341.4 600.0" stroke="#1fa370" stroke-width="1.40" fill="none" stroke-linejoin="round" clip-path="url(#cb1)"/>
<path d="M70.5 557.4L72.0 559.1L72.7 559.3L73.3 559.1L74.4 557.9L77.0 553.3L77.8 552.5L78.5 552.5L79.2 553.0L79.9 554.2L83.0 561.4L83.7 562.3L84.4 562.5L85.0 561.9L85.8 560.6L88.6 553.5L89.2 552.6L89.9 552.5L90.7 553.2L91.4 554.9L94.4 564.6L95.1 565.7L95.7 566.1L96.4 565.5L97.2 563.9L100.0 554.7L100.7 553.4L101.4 553.3L102.0 554.0L102.8 555.8L105.7 566.2L106.5 567.8L107.1 568.2L107.8 567.7L108.5 566.2L111.6 556.4L112.2 555.3L112.9 555.0L113.5 555.5L114.3 557.2L117.3 567.4L118.0 568.5L118.6 568.9L119.3 568.4L119.9 567.1L122.8 557.0L123.6 555.2L124.4 554.5L125.0 554.8L125.8 556.1L128.9 565.6L129.8 566.6L130.1 566.6L130.5 566.3L131.2 565.2L131.8 563.3L134.5 553.3L135.3 551.6L135.9 551.0L136.6 551.2L137.4 552.4L139.6 559.2L140.5 561.2L141.3 562.1L141.9 562.0L142.6 561.0L143.2 559.4L146.0 549.5L146.8 548.0L147.4 547.6L148.1 548.0L148.7 549.2L151.7 558.8L152.3 560.3L153.0 561.1L153.3 561.2L153.7 561.1L154.5 560.0L157.4 551.1L158.2 549.7L158.8 549.3L159.6 549.8L160.3 551.3L163.3 560.3L163.9 561.9L164.4 562.7L164.8 562.9L165.1 562.9L165.7 562.0L167.6 556.5L168.5 554.7L169.2 554.0L171.4 552.7L171.9 553.1L172.4 554.0L174.1 561.1L174.5 562.2L175.0 562.5L175.6 561.6L177.1 557.0L178.8 554.6L179.5 551.9L180.6 543.6L182.3 524.5L182.6 522.2L183.0 524.3L184.2 540.1L185.1 547.9L185.7 550.3L186.0 550.8L186.7 551.1L187.1 552.2L188.7 563.1L189.2 564.7L189.4 565.1L189.6 565.0L190.1 562.9L191.2 553.8L191.6 551.9L191.9 551.9L192.1 552.5L193.0 557.6L193.2 557.7L193.5 556.6L194.0 550.4L194.7 536.8L195.1 519.7L195.3 497.7L195.5 407.8L195.6 487.1L196.0 523.8L196.3 534.5L196.9 545.7L198.3 564.7L198.7 568.4L199.1 570.0L199.3 570.0L199.7 568.8L200.9 558.0L201.4 555.6L201.6 555.7L201.9 557.1L203.1 567.3L203.7 569.8L204.0 569.5L204.3 568.1L205.6 557.8L206.2 555.4L206.5 555.7L206.8 556.9L208.0 566.5L208.7 569.1L209.0 569.1L209.3 568.4L210.5 562.7L211.0 561.3L211.3 561.2L211.6 561.5L212.8 564.5L213.1 564.7L213.4 564.5L214.1 562.5L215.7 554.9L216.2 553.7L217.4 552.7L218.0 551.2L219.7 539.9L220.1 538.7L220.7 540.6L222.6 554.6L223.4 557.5L224.2 558.6L224.9 558.4L226.6 556.8L229.5 554.6L230.4 554.3L231.4 554.4L233.0 555.1L236.2 557.0L237.2 557.1L239.1 556.9L240.1 557.3L241.3 558.6L244.0 563.3L244.7 564.1L245.5 564.3L246.3 563.9L247.0 563.0L249.7 557.9L250.9 556.2L252.2 555.3L253.6 555.3L255.1 556.2L258.6 559.0L259.6 559.4L261.8 559.8L262.9 560.5L264.4 562.2L266.4 565.8L267.7 567.4L267.8 567.3L267.9 567.6L268.1 567.4L268.3 567.9L268.5 567.5L268.7 567.6L268.8 568.0L269.2 568.0L269.4 568.3L269.6 567.9L269.7 568.2L269.8 568.1L269.9 568.2L270.0 567.8L270.2 568.2L270.3 567.6L270.4 568.0L270.6 567.5L270.9 567.8L271.1 567.3L271.3 568.0L271.5 567.8L271.7 567.0L271.8 567.7L271.9 567.3L272.0 567.6L272.4 566.3L272.7 567.9L272.8 567.3L273.1 568.0L273.2 567.7L273.3 568.0L273.5 567.0L273.6 567.9L273.7 567.7L273.8 567.9L273.9 567.7L274.1 567.7L274.3 568.8L274.5 568.2L274.9 568.9L275.0 567.7L275.2 569.6L275.4 568.4L275.5 568.6L275.6 568.2L275.7 569.1L275.8 568.8L276.1 569.1L276.2 568.5L276.4 569.4L276.5 569.5L276.6 569.0L276.7 570.9L276.8 569.2L276.9 569.5L277.0 568.9L277.1 570.6L277.3 570.5L277.4 570.8L277.5 570.0L277.6 570.7L277.7 570.0L278.0 572.3L278.1 571.5L278.4 571.5L278.6 572.7L278.7 571.9L278.9 573.2L279.1 572.2L279.5 574.5L279.6 573.4L279.7 574.2L280.0 573.5L280.3 574.6L280.5 572.9L280.7 573.7L280.9 573.8L281.0 575.4L281.2 573.3L281.3 574.6L281.4 573.4L281.5 575.2L281.6 574.7L281.7 575.2L281.9 574.2L282.1 575.2L282.2 575.0L282.3 576.1L282.5 574.0L282.6 576.0L282.8 573.7L282.9 574.7L283.0 572.7L283.2 573.3L283.3 575.2L283.4 574.3L283.5 574.9L283.6 573.8L283.8 575.0L283.9 574.1L284.0 575.3L284.3 573.1L284.4 573.9L284.5 573.6L284.6 574.1L284.7 572.8L285.2 573.8L285.5 575.6L285.7 574.0L285.8 575.8L285.9 574.7L286.0 575.3L286.1 575.2L286.2 575.5L286.4 575.1L286.5 576.3L286.6 575.2L286.9 577.4L287.0 577.0L287.1 577.5L287.2 577.1L287.3 575.4L287.5 577.6L287.8 576.7L287.9 578.0L288.2 577.9L288.4 578.4L288.5 579.6L288.6 578.6L288.7 579.0L288.8 577.2L289.0 580.8L289.1 579.9L289.3 580.2L289.5 579.2L289.7 582.0L289.8 578.0L290.1 582.0L290.4 578.7L290.5 581.1L290.6 578.3L290.8 580.2L290.9 579.1L291.0 580.1L291.1 578.5L291.2 581.3L291.4 578.8L291.7 583.1L292.0 578.9L292.1 580.0L292.2 579.6L292.4 583.0L292.5 581.3L292.6 582.7L292.7 579.4L293.0 582.4L293.1 580.3L293.3 581.2L293.5 579.8L293.8 583.6L294.0 580.4L294.3 580.6L294.4 580.3L294.5 579.4L294.7 583.4L294.8 580.8L295.0 583.2L295.1 581.8L295.2 583.1L295.5 577.8L295.6 581.6L295.8 582.8L295.9 581.3L296.0 582.2L296.1 580.9L296.3 584.9L296.4 581.0L296.6 583.8L297.0 580.5L297.2 583.0L297.3 579.5L297.4 583.3L297.5 583.8L297.6 582.6L297.8 583.1L297.9 582.5L298.1 586.1L298.3 583.7L298.4 585.3L298.5 583.5L298.6 586.1L298.8 583.3L298.9 583.5L299.0 583.3L299.2 581.8L299.5 582.3L299.6 583.7L299.7 583.2L299.8 584.4L299.9 581.8L300.1 586.9L300.2 583.7L300.3 583.8L300.4 583.4L300.5 582.0L300.7 583.7L300.8 582.5L301.1 583.5L301.3 586.3L301.4 583.9L301.6 584.4L301.7 586.5L301.8 584.5L302.1 587.1L302.2 586.6L302.3 587.6L302.4 586.0L302.5 588.4L302.7 585.9L302.9 587.6L303.0 586.0L303.3 588.8L303.5 585.6L303.7 584.8L303.8 586.8L304.0 584.6L304.1 587.3L304.3 584.3L304.6 586.8L304.7 584.1L304.8 585.8L304.9 584.2L305.0 584.9L305.1 588.0L305.2 584.3L305.3 587.0L305.5 588.5L305.6 587.4L305.7 588.7L306.1 585.3L306.2 586.6L306.3 585.1L306.4 588.1L306.5 587.8L306.6 588.8L306.8 587.8L306.9 591.6L307.4 586.2L307.5 588.4L307.6 588.0L307.8 589.6L307.9 584.2L308.1 586.3L308.2 582.7L308.4 588.3L308.5 585.8L308.8 588.4L308.9 585.3L309.1 587.3L309.3 584.5L309.5 588.5L309.7 588.7L309.8 588.4L309.9 585.3L310.2 588.8L310.6 586.3L310.7 588.3L310.8 585.2L311.0 589.9L311.2 586.9L311.3 589.4L311.4 585.9L311.6 591.1L311.8 587.7L311.9 588.0L312.0 587.7L312.3 589.9L312.5 586.7L312.7 589.4L312.8 587.7L312.9 590.3L313.1 588.7L313.4 592.7L313.8 588.7L314.1 592.0L314.2 588.1L314.3 592.7L314.4 588.4L314.5 591.4L314.6 589.8L314.9 592.4L315.2 589.6L315.3 593.2L315.6 587.1L315.8 593.2L316.0 589.9L316.5 593.3L316.6 590.8L316.7 590.7L316.8 591.8L316.9 589.5L317.1 591.8L317.2 589.3L317.3 592.7L317.6 589.8L317.8 591.7L317.9 588.1L318.0 591.3L318.1 589.9L318.2 591.3L318.3 589.0L318.5 591.6L318.6 590.0L318.8 590.4L318.9 590.1L319.0 590.5L319.2 588.8L319.3 591.0L319.4 588.7L319.5 588.9L319.6 588.0L319.7 591.0L319.9 588.7L320.1 594.1L320.2 590.6L320.3 591.3L320.4 590.6L320.5 591.4L320.8 589.0L321.0 591.1L321.2 591.4L321.4 588.0L321.5 589.3L321.7 588.9L321.9 591.3L322.2 587.6L322.7 591.1L322.9 587.0L323.0 591.4L323.2 587.4L323.7 592.9L324.1 591.3L324.2 593.5L324.3 590.1L324.4 591.8L324.5 590.0L324.6 594.5L324.8 590.8L324.9 592.9L325.1 593.8L325.4 591.1L325.6 595.3L325.8 590.7L326.0 594.5L326.1 593.2L326.4 595.3L326.8 591.3L327.1 595.0L327.4 588.6L327.5 593.0L327.7 590.5L327.9 591.4L328.0 588.9L328.1 593.0L328.3 591.7L328.6 592.6L328.9 590.4L329.0 591.6L329.2 591.5L329.3 589.5L329.5 592.9L329.7 587.2L329.8 592.7L330.1 588.4L330.5 591.5L330.6 588.4L330.8 593.0L331.0 590.4L331.1 592.8L331.3 588.6L331.4 593.5L331.5 590.1L331.8 591.7L331.9 590.0L332.1 596.2L332.2 589.8L332.3 590.7L332.4 591.0L332.5 590.7L332.6 588.3L332.7 591.0L332.9 588.2L333.2 592.0L333.4 589.7L333.5 591.3L333.6 590.3L333.7 591.5L333.8 590.4L333.9 593.9L334.1 591.5L334.2 592.8L334.4 591.5L334.5 593.8L334.6 591.3L334.9 594.6L335.1 594.7L335.2 592.7L335.3 594.9L335.4 591.8L335.5 597.0L335.7 595.1L335.8 595.9L336.0 592.0L336.1 596.7L336.2 592.4L336.3 594.4L336.5 593.6L336.6 594.9L336.7 591.4L336.8 596.3L337.1 593.0L337.3 596.4L337.4 594.2L337.5 596.5L337.7 593.4L337.9 595.8L338.1 594.0L338.3 595.8L338.4 593.7L338.6 593.3L338.8 597.0L339.0 591.4L339.1 596.1L339.2 595.2L339.3 595.9L339.4 593.9L339.6 595.5L339.7 594.6L339.8 594.8L339.9 592.7L340.1 596.5L340.3 592.4L340.4 593.9L340.5 593.2L340.7 597.2L340.9 593.5L341.0 594.8L341.1 592.3L341.4 597.2" stroke="#b57ce8" stroke-width="1.40" fill="none" stroke-linejoin="round" clip-path="url(#cb1)"/>
<path d="M70.5 556.3L71.2 556.2L71.9 555.6L74.9 550.5L75.7 549.7L76.5 549.6L77.2 550.1L78.0 551.3L81.0 558.3L81.8 559.2L82.5 559.3L83.2 558.7L83.8 557.6L86.6 550.7L87.3 549.9L87.9 549.7L88.7 550.5L89.5 552.1L92.4 561.2L93.1 562.5L93.8 562.8L94.4 562.3L95.2 560.8L98.0 551.7L98.7 550.5L99.3 550.2L100.1 551.0L100.8 552.8L103.9 563.6L104.6 565.0L105.3 565.3L105.9 564.8L106.7 563.1L109.6 553.8L110.3 552.7L110.9 552.5L111.6 553.1L112.3 554.8L115.4 565.3L116.0 566.5L116.7 566.9L117.4 566.3L118.2 564.7L121.2 554.5L121.9 553.3L122.5 553.0L123.2 553.4L123.9 555.0L126.8 564.0L127.5 565.1L128.1 565.4L128.8 564.8L129.6 563.1L132.3 553.1L132.9 551.3L133.6 550.2L133.9 549.9L134.3 549.9L135.1 550.7L135.9 552.7L138.2 559.4L139.0 560.6L139.6 560.9L140.4 560.1L141.2 558.3L144.2 547.7L144.9 546.2L145.6 545.8L146.2 546.3L146.9 547.6L149.7 557.0L150.5 558.7L151.1 559.4L151.8 559.3L152.5 558.2L155.3 549.9L156.1 548.5L156.8 548.0L157.5 548.4L158.4 550.0L161.3 559.3L161.8 560.7L162.4 561.4L162.9 561.4L163.5 560.8L165.7 555.3L168.3 550.9L169.0 550.2L169.4 550.3L169.9 551.1L171.6 557.9L172.0 558.9L172.5 559.1L173.1 558.3L174.5 554.7L175.8 552.6L176.8 548.9L178.0 539.8L179.7 520.2L180.0 517.8L180.4 519.8L181.6 536.0L182.6 544.2L183.2 547.0L184.4 549.6L186.1 560.5L186.7 562.4L186.9 562.7L187.1 562.7L187.6 560.8L188.6 553.6L189.0 551.8L189.3 551.8L189.5 552.3L190.4 557.0L190.6 557.1L190.9 556.0L191.5 549.9L192.1 536.2L192.5 519.6L192.7 496.9L192.9 404.6L193.0 486.3L193.4 523.7L193.7 534.4L194.3 545.4L195.7 563.8L196.1 567.3L196.5 569.0L196.7 569.0L196.8 568.8L197.2 567.4L198.3 558.0L198.8 555.8L199.0 556.0L199.3 557.4L200.5 567.2L201.1 569.4L201.4 569.1L201.8 567.7L203.0 557.3L203.6 555.0L203.9 555.2L204.2 556.3L205.4 565.1L206.1 567.5L206.4 567.5L206.7 566.9L207.9 561.8L208.4 560.7L208.7 560.7L209.0 561.1L210.2 563.8L210.5 564.0L210.8 563.7L211.5 561.7L213.2 553.6L214.6 550.2L215.2 548.4L215.9 544.0L217.0 535.4L217.5 533.4L218.1 535.5L219.5 547.1L220.4 552.4L221.2 555.7L221.7 556.6L222.2 557.1L223.0 557.1L224.2 556.4L227.4 552.8L228.1 552.5L228.8 552.6L230.2 553.7L232.8 557.1L233.9 558.1L235.0 558.2L237.2 557.3L237.8 557.4L238.3 557.7L239.4 559.1L242.0 563.7L242.8 564.4L243.6 564.7L244.4 564.2L245.3 563.0L248.3 556.5L249.6 554.3L250.9 553.0L251.6 552.8L252.1 552.9L253.3 553.7L255.6 557.0L256.7 558.1L257.7 558.5L260.0 558.3L261.2 558.9L262.3 560.2L265.2 564.9L266.1 565.8L267.2 566.5L267.6 566.3L267.8 566.6L267.9 566.3L268.0 566.5L268.3 566.2L268.4 566.3L268.6 566.0L268.7 566.2L269.0 566.1L269.1 565.7L269.2 566.0L269.4 565.8L269.8 565.9L270.2 565.1L270.3 565.8L270.5 565.2L270.6 565.6L270.7 565.3L271.0 565.4L271.1 565.1L271.2 565.5L271.3 565.1L271.6 565.4L271.8 565.1L271.9 565.3L272.2 564.6L272.3 565.4L272.4 565.6L272.5 565.2L272.6 566.3L272.7 565.8L273.0 566.8L273.2 566.2L273.3 567.5L273.6 566.7L273.8 567.5L273.9 567.2L274.0 568.0L274.1 567.1L274.4 568.8L274.8 567.8L274.9 568.8L275.0 568.3L275.1 569.2L275.2 568.2L275.3 569.2L275.5 569.2L275.6 569.9L275.7 569.4L275.8 569.5L276.0 570.2L276.2 570.0L276.4 570.4L276.5 569.6L276.6 570.0L276.7 569.7L276.8 570.5L276.9 569.9L277.0 569.7L277.1 569.8L277.3 570.7L277.4 570.4L277.5 571.0L277.7 570.8L277.8 572.1L277.9 569.9L278.1 571.4L278.3 570.7L278.7 571.1L278.8 570.8L279.1 572.7L279.3 570.1L279.6 573.4L279.7 571.9L280.0 572.9L280.1 571.6L280.2 573.2L280.3 571.9L280.4 572.9L280.5 571.8L280.7 572.9L281.0 571.5L281.2 572.5L281.3 571.5L281.4 573.3L281.7 571.1L281.8 572.4L281.9 571.2L282.0 571.5L282.1 571.1L282.5 572.0L282.6 571.1L282.7 572.1L282.8 571.8L282.9 572.5L283.0 572.4L283.1 573.6L283.2 571.4L283.4 573.0L283.5 570.9L283.8 573.0L284.0 569.6L284.1 571.8L284.2 571.3L284.3 571.8L284.4 573.5L284.6 572.4L284.8 575.0L285.3 572.9L285.4 575.4L285.5 573.8L285.6 575.6L285.7 575.4L285.8 575.7L286.0 574.7L286.2 577.6L286.5 574.7L286.6 576.6L286.7 575.5L287.0 577.8L287.2 577.9L287.3 574.5L287.5 578.5L287.7 576.9L287.8 577.3L288.0 576.7L288.1 577.5L288.2 576.6L288.4 579.3L288.6 577.3L288.8 578.7L289.0 578.6L289.1 575.9L289.3 579.7L289.6 576.7L289.7 578.7L289.9 576.9L290.3 579.3L290.4 578.3L290.5 578.7L290.6 578.6L290.7 581.6L290.8 578.6L291.0 581.5L291.3 578.6L291.6 579.6L291.7 579.5L291.8 581.2L292.0 578.3L292.2 582.6L292.3 577.4L292.4 581.0L292.5 578.9L292.6 580.1L292.7 577.9L292.9 579.9L293.0 578.3L293.1 581.4L293.2 578.8L293.4 580.7L293.5 579.6L293.6 579.4L293.7 579.4L293.8 577.7L293.9 582.9L294.2 580.0L294.3 581.9L294.4 577.9L294.5 580.0L294.6 579.0L294.7 582.4L294.8 580.2L294.9 581.1L295.0 577.2L295.1 582.8L295.2 577.5L295.5 578.3L295.7 581.9L296.1 577.3L296.2 580.4L296.3 579.5L296.4 580.4L296.5 579.3L296.8 579.9L296.9 577.6L297.0 582.4L297.1 580.8L297.2 581.1L297.3 584.1L297.5 578.0L297.6 580.7L297.8 578.4L298.1 583.5L298.2 580.7L298.4 583.4L298.6 582.7L298.7 583.3L298.9 579.4L299.2 582.8L299.5 581.5L299.6 583.9L299.7 582.8L299.8 583.0L300.0 582.8L300.1 581.3L300.3 584.5L300.5 582.0L300.8 584.8L300.9 582.7L301.0 583.4L301.1 582.3L301.3 586.1L301.4 583.5L301.6 588.0L301.7 587.0L301.8 587.8L302.0 585.3L302.1 587.2L302.2 585.9L302.3 588.0L302.4 586.7L302.5 588.3L302.8 583.9L303.1 587.4L303.4 584.0L303.5 585.6L303.7 584.8L303.9 585.0L304.0 586.2L304.2 584.2L304.3 585.8L304.6 582.0L304.7 585.4L304.8 584.7L304.9 585.3L305.1 583.7L305.3 584.2L305.4 584.1L305.5 586.1L305.6 582.7L305.7 584.1L306.0 583.1L306.2 585.4L306.5 585.3L306.6 584.7L306.7 584.8L306.9 583.6L307.0 586.2L307.4 581.9L307.7 588.2L307.9 585.2L308.1 587.2L308.2 583.9L308.5 586.9L308.6 583.6L308.9 588.3L309.0 584.9L309.1 585.9L309.2 585.1L309.4 587.3L309.7 585.5L309.8 587.9L309.9 586.5L310.1 587.9L310.2 585.8L310.3 587.8L310.5 585.1L310.7 586.5L310.8 589.8L311.1 588.9L311.3 589.8L311.6 587.4L311.8 589.1L311.9 588.5L312.1 589.8L312.4 588.4L312.6 592.2L312.7 589.1L312.8 589.8L313.2 587.6L313.3 588.3L313.4 586.0L313.6 589.2L313.7 587.6L313.8 589.6L314.1 586.3L314.3 588.9L314.4 584.9L314.6 585.1L314.7 587.7L315.0 584.5L315.1 585.6L315.2 583.7L315.4 585.1L315.6 585.5L315.8 584.7L315.9 587.3L316.0 587.0L316.3 588.0L316.5 582.8L316.8 589.7L317.0 583.4L317.5 589.1L317.9 584.1L318.1 590.3L318.2 585.6L318.4 588.8L318.5 585.8L318.6 585.4L318.8 587.6L318.9 584.6L319.0 586.9L319.1 585.4L319.3 589.3L319.4 585.7L319.5 588.0L319.6 587.7L319.7 588.4L319.9 585.4L320.2 587.8L320.3 585.8L320.4 588.0L320.6 586.5L320.9 590.2L321.0 588.8L321.2 588.9L321.4 585.7L321.6 589.7L321.7 587.3L321.8 588.7L321.9 586.7L322.0 587.7L322.1 585.4L322.2 586.7L322.3 585.2L322.7 589.6L323.0 586.0L323.1 591.2L323.4 588.1L323.5 592.9L323.6 588.9L323.7 591.0L323.8 589.3L324.2 590.9L324.3 589.4L324.5 591.4L324.6 588.9L324.8 591.2L325.0 589.4L325.1 590.0L325.3 587.3L325.5 590.0L325.6 588.4L325.7 590.0L325.8 587.5L326.0 590.9L326.6 586.1L326.8 587.7L326.9 585.2L327.0 588.7L327.3 584.8L327.4 587.5L327.6 586.9L327.7 588.2L328.0 586.9L328.1 587.7L328.2 586.1L328.4 587.3L328.5 585.0L328.7 589.6L328.8 586.7L329.0 587.2L329.2 586.2L329.4 589.4L329.5 587.0L329.6 588.1L329.7 586.7L330.0 589.2L330.1 586.7L330.2 587.9L330.3 585.7L330.5 586.8L330.6 585.4L330.7 589.0L330.8 585.8L330.9 589.1L331.0 586.0L331.2 587.7L331.6 586.4L331.9 590.1L332.0 589.0L332.2 589.6L332.3 587.7L332.5 589.2L332.6 588.8L332.7 586.4L332.9 590.5L333.2 588.0L333.3 590.1L333.4 588.5L333.5 589.6L333.6 589.8L333.7 589.3L333.9 591.4L334.1 586.2L334.5 590.7L334.6 588.4L334.7 589.4L334.8 588.3L335.0 591.7L335.1 588.3L335.2 590.6L335.3 588.1L335.5 591.6L335.7 588.4L335.8 591.6L335.9 588.1L336.1 592.6L336.2 588.7L336.3 590.7L336.6 588.2L336.7 591.5L336.8 587.9L337.0 590.4L337.1 587.5L337.3 590.8L337.6 589.5L337.7 592.4L337.8 587.1L337.9 589.8L338.3 587.6L338.4 590.7L338.7 585.6L339.0 588.7L339.1 585.9L339.2 587.6L339.3 585.6L339.4 589.9L339.8 584.5L340.1 588.4L340.3 586.4L340.6 591.0L340.7 588.1L341.0 588.8L341.1 587.5L341.3 591.2L341.4 589.4" stroke="#d8a21a" stroke-width="1.40" fill="none" stroke-linejoin="round" clip-path="url(#cb1)"/>
<path d="M70.50 579.20H68.50M70.50 552.00H68.50M70.50 524.80H68.50M70.50 497.60H68.50M70.50 470.40H68.50M70.50 443.20H68.50M70.50 416.00H68.50M70.50 388.80H68.50M70.50 592.80H66.50M70.50 565.60H66.50M70.50 538.40H66.50M70.50 511.20H66.50M70.50 484.00H66.50M70.50 456.80H66.50M70.50 429.60H66.50M70.50 402.40H66.50M70.50 375.20H66.50M97.59 592.80V594.80M151.77 592.80V594.80M205.95 592.80V594.80M260.13 592.80V594.80M314.31 592.80V594.80M70.50 592.80V596.80M124.68 592.80V596.80M178.86 592.80V596.80M233.04 592.80V596.80M287.22 592.80V596.80M341.40 592.80V596.80" stroke="#222" stroke-width="1.30" fill="none"/>
<rect x="70.50" y="375.20" width="270.90" height="217.60" stroke="#222" stroke-width="1.30" fill="none"/>
<text x="0.0" y="0.0" font-size="13.40" text-anchor="end" font-weight="bold" transform="translate(63.30 597.45) scale(1 1.08)">-80</text>
<text x="0.0" y="0.0" font-size="13.40" text-anchor="end" font-weight="bold" transform="translate(63.30 570.25) scale(1 1.08)">-70</text>
<text x="0.0" y="0.0" font-size="13.40" text-anchor="end" font-weight="bold" transform="translate(63.30 543.05) scale(1 1.08)">-60</text>
<text x="0.0" y="0.0" font-size="13.40" text-anchor="end" font-weight="bold" transform="translate(63.30 515.85) scale(1 1.08)">-50</text>
<text x="0.0" y="0.0" font-size="13.40" text-anchor="end" font-weight="bold" transform="translate(63.30 488.65) scale(1 1.08)">-40</text>
<text x="0.0" y="0.0" font-size="13.40" text-anchor="end" font-weight="bold" transform="translate(63.30 461.45) scale(1 1.08)">-30</text>
<text x="0.0" y="0.0" font-size="13.40" text-anchor="end" font-weight="bold" transform="translate(63.30 434.25) scale(1 1.08)">-20</text>
<text x="0.0" y="0.0" font-size="13.40" text-anchor="end" font-weight="bold" transform="translate(63.30 407.05) scale(1 1.08)">-10</text>
<text x="0.0" y="0.0" font-size="13.40" text-anchor="end" font-weight="bold" transform="translate(63.30 379.85) scale(1 1.08)">0</text>
<text x="0.0" y="0.0" font-size="13.40" text-anchor="middle" font-weight="bold" transform="translate(70.50 610.90) scale(1 1.08)">1530</text>
<text x="0.0" y="0.0" font-size="13.40" text-anchor="middle" font-weight="bold" transform="translate(124.68 610.90) scale(1 1.08)">1540</text>
<text x="0.0" y="0.0" font-size="13.40" text-anchor="middle" font-weight="bold" transform="translate(178.86 610.90) scale(1 1.08)">1550</text>
<text x="0.0" y="0.0" font-size="13.40" text-anchor="middle" font-weight="bold" transform="translate(233.04 610.90) scale(1 1.08)">1560</text>
<text x="0.0" y="0.0" font-size="13.40" text-anchor="middle" font-weight="bold" transform="translate(287.22 610.90) scale(1 1.08)">1570</text>
<text x="0.0" y="0.0" font-size="13.40" text-anchor="middle" font-weight="bold" transform="translate(341.40 610.90) scale(1 1.08)">1580</text>
<path d="M274.8 394.80H303.3" stroke="#111111" stroke-width="1.3"/>
<text x="306.5" y="399.4" font-size="12.30" text-anchor="start" font-weight="bold" textLength="27.6" lengthAdjust="spacing">20 °C</text>
<path d="M274.8 410.35H303.3" stroke="#e8131b" stroke-width="1.3"/>
<text x="306.5" y="415.0" font-size="12.30" text-anchor="start" font-weight="bold" textLength="27.6" lengthAdjust="spacing">22 °C</text>
<path d="M274.8 425.90H303.3" stroke="#2b6be0" stroke-width="1.3"/>
<text x="306.5" y="430.5" font-size="12.30" text-anchor="start" font-weight="bold" textLength="27.6" lengthAdjust="spacing">24 °C</text>
<path d="M274.8 441.45H303.3" stroke="#1fa370" stroke-width="1.3"/>
<text x="306.5" y="446.1" font-size="12.30" text-anchor="start" font-weight="bold" textLength="27.6" lengthAdjust="spacing">26 °C</text>
<path d="M274.8 457.00H303.3" stroke="#b57ce8" stroke-width="1.3"/>
<text x="306.5" y="461.6" font-size="12.30" text-anchor="start" font-weight="bold" textLength="27.6" lengthAdjust="spacing">28 °C</text>
<path d="M274.8 472.55H303.3" stroke="#d8a21a" stroke-width="1.3"/>
<text x="306.5" y="477.2" font-size="12.30" text-anchor="start" font-weight="bold" textLength="27.6" lengthAdjust="spacing">30 °C</text>
<path d="M186.4 392.8H213.1" stroke="#111" stroke-width="1.3"/>
<path d="M182.4 392.8L188.4 390.2L188.4 395.4Z" fill="#111"/>
<text x="16.9" y="368.3" font-size="20.50" text-anchor="start" font-weight="bold" >S2</text>
<text x="201.3" y="625.5" font-size="14.30" text-anchor="middle" font-weight="bold" >Wavelength(nm)</text>
<text x="0.0" y="0.0" font-size="14.40" text-anchor="middle" font-weight="bold" transform="translate(41.0 483.7) rotate(-90)" textLength="129.4" lengthAdjust="spacingAndGlyphs">Transimission (dB)</text>
<text x="190.3" y="657.6" font-size="19.20" font-weight="bold" textLength="33.9" lengthAdjust="spacingAndGlyphs">(b1)</text>
<clipPath id="cc1"><rect x="71.10" y="715.70" width="268.00" height="215.80"/></clipPath>
<path d="M71.1 915.4L74.7 913.9L78.4 912.0L82.5 909.6L94.0 902.2L97.7 900.2L100.9 898.9L104.0 898.2L107.0 897.9L109.9 898.1L116.7 899.0L119.9 899.1L123.1 898.5L126.1 897.3L129.3 895.2L132.6 892.3L136.0 888.3L142.2 879.5L144.2 877.6L145.8 876.8L146.7 876.7L147.6 876.9L149.4 877.9L151.3 879.8L156.0 885.5L158.3 887.9L161.3 890.3L164.5 892.0L166.5 892.6L168.5 893.0L170.4 893.1L172.2 892.8L173.7 892.4L175.1 891.6L176.3 890.5L177.4 889.2L181.7 881.9L183.8 877.5L191.7 863.0L194.3 857.4L195.9 852.8L196.6 847.4L196.8 828.3L197.3 743.5L197.7 822.3L198.2 831.9L198.5 831.2L198.7 832.3L200.1 848.6L200.9 853.0L202.1 857.7L204.7 866.9L208.0 876.4L210.3 884.0L212.6 889.9L214.4 893.0L215.3 893.9L216.9 895.0L218.5 895.7L220.3 896.1L223.9 896.5L234.9 896.7L239.2 897.2L243.9 898.2L253.0 900.6L253.2 900.9L254.2 901.1L254.6 901.4L254.9 901.2L255.5 901.6L255.7 901.3L256.2 901.8L256.4 901.6L256.6 901.8L256.7 901.6L256.9 902.0L257.4 902.0L257.6 902.3L257.8 902.1L258.2 902.5L258.3 902.3L258.7 903.0L258.9 902.7L259.2 902.8L259.4 902.4L259.6 903.0L259.8 902.8L260.0 903.3L261.2 903.0L261.4 903.3L261.6 903.2L261.7 903.6L262.1 903.3L262.5 904.4L262.8 902.9L263.0 903.7L263.2 903.8L263.5 903.4L264.1 904.4L264.2 904.2L264.4 904.5L264.8 903.7L265.5 904.9L265.7 904.3L266.0 904.3L266.6 905.4L266.7 904.4L266.9 905.3L267.1 904.4L267.3 905.9L267.5 905.6L267.6 905.7L268.0 905.1L268.2 905.6L268.3 905.2L268.5 906.0L268.7 905.7L268.9 906.1L269.1 905.9L269.2 906.0L269.6 904.4L269.8 906.5L270.1 905.7L270.3 906.0L270.5 905.4L270.7 906.7L270.8 905.9L271.0 906.6L271.2 905.9L271.6 906.2L271.9 907.2L272.3 906.2L272.5 906.6L272.6 906.2L272.8 907.2L273.2 906.2L273.4 907.8L273.7 905.8L273.9 907.2L274.1 906.4L274.2 906.9L274.4 906.4L274.8 907.5L275.0 907.3L275.5 907.8L275.7 906.8L276.0 908.2L276.2 908.2L276.4 907.4L276.6 908.9L276.7 907.4L276.9 907.5L277.1 907.3L277.3 908.2L277.5 908.3L278.0 907.3L278.5 909.2L279.1 908.0L279.2 908.6L279.4 908.0L279.6 908.0L279.8 909.6L280.0 909.9L280.3 909.4L280.5 909.8L280.7 908.8L280.9 909.0L281.0 908.8L281.4 909.9L281.6 909.4L281.7 910.5L281.9 910.0L282.1 910.7L282.3 909.5L282.5 912.1L282.6 909.8L282.8 909.7L283.0 910.5L283.2 910.3L283.4 910.5L283.5 909.7L283.7 909.7L283.9 910.8L284.1 909.5L284.2 911.1L284.4 910.4L284.6 910.5L284.8 911.6L285.0 910.5L285.1 911.1L285.3 909.9L285.7 911.9L286.2 910.3L286.4 910.1L286.6 910.9L286.8 909.7L286.9 910.8L287.3 909.7L287.6 911.7L287.8 909.8L288.2 910.7L288.4 909.3L288.5 911.0L288.7 909.8L288.9 910.4L289.1 908.2L289.3 912.0L289.4 910.4L289.6 910.5L289.8 909.9L290.0 911.1L290.1 911.3L290.3 909.4L290.5 911.1L290.7 910.9L290.9 911.4L291.0 911.3L291.2 913.1L291.8 912.0L291.9 911.2L292.1 911.8L292.3 911.7L292.5 912.2L292.6 911.1L292.8 912.8L293.0 912.4L293.2 913.9L293.5 912.1L293.9 914.7L294.1 912.9L294.4 914.3L294.6 913.1L294.8 913.9L295.1 912.8L295.3 914.3L295.5 912.5L295.7 913.7L295.9 913.7L296.0 912.1L296.4 914.0L296.8 913.4L296.9 914.9L297.1 912.9L297.5 915.0L297.6 914.8L297.8 913.0L298.0 915.1L298.2 911.5L298.4 915.0L298.5 913.8L298.7 916.6L298.9 914.2L299.1 914.7L299.3 913.6L299.6 914.7L299.8 912.2L300.2 915.4L300.3 914.3L300.5 917.7L300.9 913.5L301.0 915.6L301.2 915.1L301.4 916.8L301.6 914.7L301.9 915.8L302.3 913.8L302.7 917.7L302.8 915.5L303.0 915.6L303.4 917.7L303.5 916.2L303.7 916.2L303.9 915.7L304.1 916.4L304.3 915.3L304.4 915.2L304.6 915.8L304.8 915.0L305.2 917.4L305.7 912.5L305.9 918.1L306.0 916.4L306.2 916.6L306.4 915.3L306.6 916.7L306.9 914.7L307.1 916.9L307.5 914.6L307.8 918.8L308.0 914.8L308.2 917.9L308.4 916.9L308.9 918.6L309.1 917.1L309.4 919.5L309.8 917.8L310.0 920.4L310.2 917.1L310.3 919.1L310.7 916.6L310.9 917.9L311.0 917.8L311.4 919.4L311.6 920.9L311.8 918.3L311.9 918.8L312.1 921.3L312.5 916.3L312.7 918.1L312.8 917.1L313.2 919.9L313.4 918.4L313.7 920.3L313.9 917.7L314.3 920.3L314.4 919.2L314.6 919.7L315.0 917.5L315.3 921.4L315.7 916.8L315.9 920.7L316.2 921.8L316.4 920.2L316.6 920.0L316.8 920.4L316.9 918.8L317.1 920.9L317.3 920.9L317.5 921.7L317.7 918.1L317.8 918.9L318.0 918.8L318.2 921.7L318.4 918.7L318.6 920.1L318.7 919.5L319.1 921.2L319.3 921.0L319.4 922.8L319.8 921.2L320.0 922.2L320.3 919.0L320.5 921.6L320.7 922.3L320.9 922.4L321.2 919.0L321.8 922.9L321.9 921.0L322.1 920.7L322.3 922.0L322.5 921.3L322.7 921.9L323.0 919.6L323.2 920.7L323.4 920.5L323.9 922.0L324.3 920.5L324.4 920.7L324.6 919.5L324.8 920.0L325.0 919.1L325.3 921.5L325.5 921.3L325.7 923.7L325.9 919.6L326.1 922.9L326.2 922.7L326.4 920.1L326.6 924.1L327.0 923.0L327.1 924.1L327.3 923.2L327.7 922.5L327.8 923.7L328.0 922.9L328.2 924.7L328.6 923.2L328.7 927.1L329.1 924.8L329.5 929.1L329.6 924.8L329.8 926.0L330.0 924.0L330.2 925.1L330.3 925.1L330.5 925.5L330.7 925.0L330.9 926.0L331.2 924.0L331.4 924.9L331.6 924.0L332.1 926.4L332.3 924.0L332.5 926.3L332.7 924.6L332.8 927.0L333.0 924.4L333.2 924.5L333.6 927.2L333.9 924.7L334.3 925.8L334.5 923.8L334.8 925.7L335.0 924.1L335.3 926.2L335.5 924.3L335.7 926.1L335.9 924.5L336.1 926.4L336.4 923.9L336.6 924.9L337.0 924.9L337.1 924.4L337.3 925.4L337.5 925.3L337.7 926.1L337.8 923.4L338.0 927.2L338.2 925.0L338.4 927.6L338.7 924.6L338.9 927.8L339.1 924.2" stroke="#111111" stroke-width="1.40" fill="none" stroke-linejoin="round" clip-path="url(#cc1)"/>
<path d="M71.1 915.4L74.3 914.1L77.9 912.3L92.9 903.7L96.3 902.2L99.5 901.0L102.7 900.1L105.9 899.8L115.1 900.2L118.1 900.2L120.9 899.7L123.6 898.7L126.8 896.8L130.1 894.2L133.8 890.4L140.8 882.4L142.9 880.7L144.7 879.9L145.8 879.8L146.7 879.9L148.6 880.9L150.8 882.7L155.3 887.5L157.4 889.4L160.3 891.4L163.1 892.6L164.9 893.0L166.9 893.3L168.5 893.3L170.1 893.0L171.5 892.4L172.8 891.6L173.8 890.7L174.9 889.3L179.0 882.2L181.3 877.5L189.2 863.0L191.7 857.8L193.4 853.6L194.0 848.2L194.2 828.5L194.7 738.1L195.1 822.6L195.6 833.7L195.9 833.5L196.1 834.6L197.4 848.9L198.1 852.9L199.2 857.4L201.9 866.5L205.5 877.2L207.8 884.9L210.1 891.0L211.7 893.8L212.6 894.8L214.2 895.9L215.8 896.5L217.8 896.9L221.4 896.9L229.0 896.0L232.6 895.8L236.0 896.0L239.8 896.7L244.6 898.2L252.1 901.0L253.3 901.2L253.7 901.6L254.1 901.4L254.2 901.7L254.4 901.6L255.5 902.3L255.7 902.2L256.4 902.4L256.6 902.2L256.9 902.7L257.3 902.8L257.4 902.7L257.6 903.0L257.8 902.8L258.2 903.6L258.3 903.2L258.7 903.5L259.1 903.4L259.2 903.1L259.6 903.9L260.0 903.7L260.5 904.2L261.0 903.8L261.2 904.2L261.6 904.1L262.1 904.4L262.3 903.7L262.5 904.4L262.6 903.9L262.8 904.3L263.0 904.0L263.2 904.8L263.3 904.5L263.5 905.3L263.7 904.2L264.1 904.8L264.4 903.9L265.3 905.7L265.5 904.9L265.7 906.0L266.0 904.9L266.4 905.9L266.6 905.9L266.7 905.2L266.9 906.0L267.1 905.8L267.3 906.2L267.5 905.8L267.6 906.1L267.8 905.5L268.0 906.4L268.2 906.3L268.3 907.1L268.5 905.7L268.7 905.7L268.9 906.4L269.4 905.8L269.6 907.0L270.0 905.4L270.5 906.6L270.7 906.2L271.0 906.4L271.2 907.3L271.6 906.8L271.7 906.8L271.9 907.5L272.1 907.1L272.3 907.6L272.6 907.1L273.2 907.0L273.5 908.2L273.7 907.6L274.1 908.6L274.6 907.5L275.0 908.9L275.1 908.2L275.3 908.6L275.5 907.6L275.7 909.0L275.9 907.9L276.0 908.6L276.2 908.4L276.4 909.1L276.6 908.4L277.1 909.2L277.3 909.0L277.5 909.9L277.6 908.5L277.8 909.1L278.0 908.1L278.2 910.0L278.4 908.3L278.7 909.7L278.9 909.1L279.1 910.2L279.2 910.2L279.4 908.6L279.6 910.8L280.0 908.6L280.1 909.4L280.3 908.5L280.7 909.7L280.9 908.6L281.2 909.7L281.4 908.6L281.6 910.5L281.7 909.1L281.9 910.2L282.1 909.6L282.5 909.7L282.8 908.8L283.0 908.8L283.5 910.6L283.7 908.9L284.1 910.6L284.4 909.3L284.6 911.0L284.8 910.5L285.1 911.1L285.3 910.7L285.5 912.4L285.7 910.2L285.9 911.5L286.0 910.9L286.2 912.0L286.4 909.1L286.8 912.8L286.9 911.8L287.1 911.8L287.6 913.1L288.0 912.1L288.2 912.1L288.4 911.3L288.7 914.3L289.1 911.5L289.3 913.5L289.4 912.7L289.6 912.6L289.8 913.7L290.0 913.1L290.1 914.0L290.3 911.7L290.7 912.8L290.9 912.4L291.0 912.4L291.4 914.2L291.8 914.3L291.9 912.4L292.3 911.6L292.5 914.3L293.0 911.4L293.2 913.5L293.5 914.1L294.1 912.5L294.3 914.0L294.4 912.1L294.6 914.5L295.0 912.9L295.5 915.0L295.7 914.7L295.9 915.1L296.2 915.4L296.4 913.2L296.6 915.3L296.8 915.0L296.9 912.7L297.1 913.6L297.3 912.3L297.5 912.3L297.6 913.5L297.8 912.8L298.0 914.8L298.4 912.0L298.5 913.5L298.7 913.8L298.9 911.3L299.3 915.5L299.4 912.5L299.6 916.5L299.8 913.5L300.0 913.6L300.3 915.0L300.5 914.7L300.7 911.2L300.9 915.5L301.2 914.7L301.4 915.2L301.6 913.0L301.9 915.4L302.1 914.5L302.7 916.0L303.0 915.9L303.2 916.4L303.4 916.1L303.5 914.5L303.7 917.7L304.1 915.2L304.3 916.2L304.4 916.0L304.6 915.1L304.8 916.9L305.0 915.9L305.3 917.1L305.5 917.2L305.9 916.0L306.0 919.1L306.2 916.9L306.4 918.8L306.6 918.9L306.8 917.7L306.9 917.8L307.1 920.2L307.3 916.2L307.5 918.6L307.7 917.0L308.7 919.0L308.9 917.2L309.1 918.1L309.3 918.0L309.4 919.1L309.6 918.9L309.8 917.8L310.0 919.7L310.2 916.0L310.3 918.5L310.5 918.3L310.7 918.5L310.9 917.9L311.2 917.6L311.6 919.8L311.8 918.4L312.1 919.6L312.3 917.0L312.5 919.7L312.7 919.6L312.8 917.2L313.0 918.9L313.2 918.8L313.6 920.2L313.7 919.5L313.9 920.9L314.1 917.7L314.3 918.3L314.4 916.3L314.8 919.6L315.0 917.7L315.2 920.0L315.3 917.9L315.7 921.5L315.9 919.8L316.1 919.8L316.2 918.9L316.4 920.2L316.6 919.3L316.8 919.5L316.9 920.9L317.1 921.3L317.3 920.9L317.5 922.3L317.8 919.4L318.4 922.4L318.7 919.6L318.9 923.5L319.1 918.2L319.4 921.7L319.6 920.8L319.8 920.9L320.0 920.6L320.2 921.9L320.3 921.0L320.5 920.8L320.7 918.5L321.1 922.7L321.2 920.6L321.4 922.0L321.8 921.8L322.5 923.5L322.7 923.3L322.8 920.6L323.2 924.3L323.4 924.8L323.6 922.0L323.7 924.5L323.9 923.4L324.1 925.7L324.3 926.1L324.4 923.2L324.6 925.5L325.0 922.2L325.2 924.4L325.3 923.9L325.7 924.8L326.2 924.4L326.8 923.4L327.1 925.1L327.5 922.7L327.8 924.5L328.0 921.6L328.2 927.0L328.4 923.8L328.6 924.7L328.7 923.1L328.9 922.9L329.3 926.0L329.5 924.9L329.6 926.8L329.8 925.1L330.0 926.6L330.2 925.1L330.3 927.8L330.7 925.3L331.2 926.4L331.6 923.6L332.0 927.2L332.3 926.0L332.5 924.4L332.7 925.5L333.0 923.3L333.2 926.3L333.4 924.7L333.6 925.3L333.7 924.1L334.1 925.0L334.3 927.3L334.5 925.7L334.6 925.5L335.0 926.4L335.2 925.7L335.5 925.8L335.7 927.4L335.9 926.8L336.1 927.5L336.2 927.3L336.4 925.6L336.6 926.9L336.8 927.1L337.0 925.7L337.1 927.9L337.3 927.4L337.5 929.1L337.7 926.0L337.8 927.4L338.0 926.1L338.2 925.9L338.4 926.9L338.6 926.3L338.7 928.7L338.9 927.9L339.1 929.5" stroke="#e8131b" stroke-width="1.40" fill="none" stroke-linejoin="round" clip-path="url(#cc1)"/>
<path d="M71.1 915.6L75.9 913.4L89.5 906.2L93.6 904.4L97.4 903.1L100.9 902.2L104.3 901.8L113.4 901.8L116.3 901.6L119.0 901.1L121.5 900.2L124.5 898.4L127.9 895.8L139.2 884.7L141.0 883.5L142.7 882.8L144.0 882.6L145.1 882.7L147.4 883.6L149.7 885.3L154.5 889.8L156.5 891.4L159.0 892.9L161.7 893.9L165.1 894.3L167.9 893.8L169.2 893.3L170.4 892.5L172.4 890.3L176.7 882.7L179.0 877.9L187.5 862.6L191.0 855.6L191.7 850.3L191.9 828.9L192.4 737.8L192.8 823.6L193.3 839.7L195.0 853.3L203.1 878.4L205.8 887.6L208.0 893.4L209.6 896.2L210.5 897.1L212.1 898.0L213.9 898.5L215.8 898.6L219.2 898.2L227.4 896.0L231.0 895.3L234.6 895.2L237.8 895.6L242.8 897.3L251.9 901.3L253.0 902.0L253.5 901.9L253.7 902.2L254.1 902.1L254.6 902.6L254.9 902.6L255.1 902.8L255.3 902.7L255.5 903.0L255.8 902.8L256.0 903.1L256.2 902.9L256.6 903.5L256.7 903.2L257.1 903.4L257.4 903.3L258.2 903.7L258.3 903.6L258.7 904.1L258.9 903.9L259.1 904.1L259.6 904.1L259.8 904.6L260.0 904.2L260.3 904.6L260.5 904.1L260.7 904.8L260.8 904.3L261.0 904.9L261.2 904.5L261.6 905.0L261.7 904.7L261.9 905.8L262.1 905.0L262.3 905.2L262.5 905.0L262.6 905.3L263.3 905.2L263.5 905.9L263.7 905.0L263.9 905.7L264.1 905.0L264.2 905.9L264.6 905.4L264.8 906.0L265.0 905.6L265.1 906.1L265.7 906.0L265.8 905.4L266.0 906.4L266.2 906.1L266.4 906.4L266.9 906.5L267.3 905.8L267.5 907.3L268.0 906.4L268.2 907.5L268.3 906.1L268.5 906.8L268.7 906.2L269.2 907.2L269.6 906.9L269.8 907.6L270.0 907.1L270.1 907.3L270.3 907.1L270.5 907.9L270.8 907.7L271.0 907.2L271.4 908.4L271.6 908.2L271.7 907.2L272.1 907.8L272.3 907.5L272.5 908.1L272.8 908.1L273.0 907.4L273.4 908.5L273.5 908.3L273.7 908.7L273.9 907.8L274.4 909.0L274.6 908.3L274.8 908.5L275.0 909.6L275.3 908.6L275.5 908.9L275.9 909.0L276.2 908.6L276.7 910.6L277.5 908.3L277.8 910.6L278.0 909.5L278.4 910.5L278.7 909.4L278.9 910.3L279.1 909.9L279.4 910.6L279.8 909.3L280.0 910.5L280.1 909.7L280.5 909.4L280.7 910.4L280.9 910.0L281.0 910.5L281.2 911.5L281.6 911.2L281.7 909.6L281.9 911.6L282.1 911.6L282.3 910.5L282.5 910.7L283.0 913.2L283.2 909.9L283.4 911.3L283.5 910.6L283.9 911.9L284.2 910.4L284.4 910.7L284.6 909.7L284.8 912.2L285.5 910.6L285.7 912.4L285.9 911.8L286.2 912.6L286.4 911.4L286.6 912.1L286.9 911.2L287.1 911.5L287.3 910.7L287.6 912.3L287.8 912.7L288.2 911.7L288.5 913.3L288.7 912.8L288.9 913.3L289.1 910.8L289.4 913.6L289.8 912.2L290.0 912.2L290.3 915.1L290.5 912.0L290.7 913.7L290.9 911.9L291.0 912.1L291.2 913.5L291.6 913.1L292.1 913.6L292.3 911.7L292.6 914.3L292.8 914.2L293.2 912.4L293.5 915.3L293.7 911.8L293.9 914.6L294.1 913.2L294.6 914.6L294.8 914.4L295.1 911.5L295.3 913.2L295.9 912.2L296.0 913.7L296.2 912.4L296.6 913.8L296.8 916.7L296.9 914.0L297.1 915.5L297.3 913.7L297.5 913.8L297.6 915.5L297.8 914.3L298.2 914.8L298.4 913.8L298.9 916.8L299.1 914.2L299.3 916.5L299.8 915.1L300.2 916.3L300.3 915.7L300.5 915.9L300.7 914.4L301.2 918.0L301.4 916.9L301.8 918.5L302.1 915.5L302.3 915.4L302.7 918.0L302.8 917.4L303.0 918.5L303.2 916.2L303.4 916.1L303.5 917.5L303.9 917.1L304.1 917.7L304.3 916.6L304.4 918.5L304.8 916.2L305.0 918.3L305.3 916.3L305.7 916.7L305.9 917.4L306.0 916.9L306.4 919.8L306.6 918.3L306.8 918.5L306.9 920.2L307.1 917.7L307.3 917.3L307.5 920.0L307.8 918.9L308.0 919.2L308.2 916.9L308.4 919.2L308.5 918.2L308.7 920.0L309.1 917.7L309.4 921.9L309.6 918.4L310.2 916.9L310.3 919.8L310.5 920.0L310.7 921.3L310.9 918.1L311.2 919.5L311.4 916.8L311.6 919.4L311.8 919.5L311.9 920.2L312.1 918.7L312.3 920.0L312.7 917.6L312.8 920.5L313.0 918.1L313.2 922.2L313.4 919.9L313.7 919.8L314.1 916.5L314.8 920.5L315.0 919.4L315.3 920.8L315.7 917.9L315.9 921.4L316.1 917.8L316.2 919.0L316.4 916.3L316.6 920.5L316.8 918.6L316.9 921.6L317.3 919.8L317.7 919.3L317.8 921.9L318.0 920.8L318.2 921.0L318.4 920.8L318.7 918.6L318.9 922.9L319.1 920.7L319.3 921.5L319.6 920.2L319.8 920.3L320.0 923.7L320.2 920.1L320.5 922.9L320.7 920.8L321.1 925.0L321.4 919.9L321.8 923.1L321.9 921.0L322.1 923.0L322.3 921.1L322.5 920.8L322.8 924.1L323.0 921.2L323.4 923.1L323.6 921.2L323.9 925.9L324.1 922.3L324.4 924.1L324.6 921.1L324.8 924.1L325.0 923.6L325.2 925.0L325.7 923.4L325.9 922.2L326.1 922.3L326.2 925.4L326.4 924.5L327.0 925.0L327.1 923.0L327.3 924.0L327.5 923.5L327.7 924.0L328.0 926.6L328.6 924.2L328.7 926.0L328.9 925.4L329.1 925.8L329.3 925.6L329.5 922.7L329.8 922.6L330.0 922.8L330.2 926.3L330.3 923.0L330.5 925.4L330.7 924.1L330.9 925.5L331.1 924.9L331.4 927.7L331.6 925.4L332.0 924.6L332.1 925.0L332.3 924.2L332.7 925.5L332.8 925.8L333.0 925.7L333.2 923.7L333.4 926.6L333.6 926.4L333.7 925.1L333.9 926.0L334.3 924.4L334.6 927.5L334.8 924.7L335.0 928.8L335.2 924.4L335.3 926.1L335.5 926.6L335.7 925.9L335.9 927.5L336.2 928.7L336.4 926.8L336.8 929.8L337.0 926.0L337.1 927.2L337.3 925.4L337.5 926.4L337.8 925.8L338.0 927.3L338.2 926.0L338.6 927.8L338.7 925.3L339.1 926.6" stroke="#2b6be0" stroke-width="1.40" fill="none" stroke-linejoin="round" clip-path="url(#cc1)"/>
<path d="M71.1 915.6L74.5 914.0L85.8 908.3L90.2 906.5L94.3 905.2L98.1 904.3L101.8 903.7L111.5 903.4L114.3 903.2L117.0 902.7L119.5 901.8L122.2 900.3L125.2 897.9L136.7 886.9L138.6 885.5L140.4 884.7L142.7 884.7L145.4 885.6L147.9 887.3L155.1 893.2L157.2 894.3L159.5 895.1L162.8 895.3L165.6 894.6L166.9 893.9L168.1 893.0L170.1 890.7L174.5 882.5L176.7 878.1L185.7 861.7L188.8 855.6L189.4 850.3L189.7 828.9L190.1 738.9L190.6 823.6L191.0 839.7L192.8 853.2L200.8 878.1L203.7 887.9L205.8 893.8L207.6 896.9L208.9 898.0L210.6 898.8L212.6 899.2L214.9 899.2L218.9 898.4L227.1 895.5L230.5 894.5L234.0 894.1L237.3 894.5L239.4 895.2L241.9 896.3L251.7 901.7L253.7 902.6L254.1 902.6L254.6 903.0L254.9 902.8L255.1 903.2L255.3 902.9L255.7 903.5L256.4 903.4L256.6 903.7L257.3 903.7L257.6 904.1L258.0 904.1L258.2 904.5L258.3 904.2L258.7 904.5L258.9 904.3L259.1 904.4L259.2 904.9L259.4 904.8L259.8 905.3L260.0 904.7L260.3 905.3L260.7 904.8L260.8 905.3L261.2 905.3L261.4 905.0L261.6 905.7L261.9 905.2L262.5 905.9L262.8 905.9L263.0 906.2L263.3 905.3L263.7 906.2L263.9 906.0L264.1 906.2L264.2 906.6L264.4 905.4L264.6 907.0L264.8 906.5L265.1 906.7L265.3 906.1L265.5 906.8L265.7 906.9L265.8 906.5L266.0 906.6L266.2 907.4L266.4 906.9L266.6 906.9L266.7 905.9L266.9 906.9L267.1 905.9L267.3 907.3L267.5 907.3L267.8 906.4L268.0 908.0L268.2 907.2L268.3 907.9L268.5 907.3L268.7 907.9L268.9 907.5L269.2 908.1L269.4 907.0L270.0 908.3L270.1 908.1L270.3 908.3L270.5 908.1L270.7 907.4L270.8 908.8L271.0 907.9L271.2 907.7L271.4 908.4L271.9 907.1L272.1 908.7L272.3 908.4L272.6 909.1L273.0 907.8L273.2 909.1L273.4 908.9L273.5 909.7L273.9 908.2L274.1 909.2L274.2 908.7L274.6 909.5L275.0 908.4L275.1 908.4L275.7 910.3L275.9 908.8L276.0 908.7L276.2 909.8L276.4 909.2L276.7 909.3L276.9 908.5L277.1 910.0L277.3 909.1L277.5 909.0L277.8 909.7L278.0 909.4L278.2 909.9L278.4 909.0L278.5 908.9L278.7 910.8L278.9 910.0L279.4 910.9L279.6 908.5L280.0 910.6L280.1 909.8L280.3 910.7L280.5 909.8L280.9 911.7L281.0 910.1L281.2 910.2L281.4 911.9L281.6 910.1L282.1 911.0L282.3 909.7L282.6 912.7L283.0 910.9L283.2 911.1L283.4 910.6L283.9 912.5L284.2 910.8L284.6 912.3L285.0 911.9L285.1 913.2L285.3 912.2L285.5 913.8L285.9 911.6L286.2 912.5L286.4 912.1L286.6 912.1L286.8 913.9L287.1 911.4L287.3 912.9L287.5 912.7L287.6 913.3L287.8 913.4L288.0 912.9L288.2 913.3L288.4 913.2L288.5 911.2L288.7 913.6L288.9 910.2L289.3 915.6L289.6 911.5L290.0 914.3L290.3 912.8L290.7 915.2L290.9 913.2L291.0 914.3L291.2 912.7L291.6 913.8L291.8 915.5L291.9 913.9L292.1 914.1L292.3 911.6L292.5 914.5L292.6 914.2L292.8 915.0L293.0 914.3L293.2 914.6L293.5 912.5L293.7 914.3L294.1 914.0L294.3 917.2L294.4 913.9L294.6 915.9L294.8 916.1L295.0 914.5L295.1 916.5L295.3 914.9L295.7 914.3L295.9 912.9L296.0 915.2L296.4 913.9L296.8 915.1L297.1 918.2L297.5 914.8L297.6 916.5L298.0 913.0L298.4 915.1L298.5 914.5L298.7 915.5L298.9 913.8L299.1 915.0L299.3 915.0L299.4 917.9L299.6 916.0L299.8 916.5L300.0 915.9L300.2 917.6L300.3 914.6L300.5 914.6L300.7 915.8L300.9 914.8L301.4 918.3L301.6 915.8L301.8 916.5L301.9 915.8L302.3 918.0L302.5 918.2L302.8 916.7L303.2 917.9L303.4 916.1L303.7 918.3L303.9 918.4L304.1 918.4L304.3 917.7L304.4 918.0L304.6 917.7L304.8 918.7L305.0 917.5L305.3 916.8L305.5 917.2L305.7 919.1L305.9 917.9L306.0 919.2L306.2 917.3L306.8 918.8L306.9 920.0L307.3 914.9L307.7 919.8L307.8 917.7L308.0 919.0L308.2 918.7L308.5 919.4L308.7 917.4L308.9 920.5L309.4 916.9L309.6 918.3L310.0 916.8L310.2 922.2L310.5 919.3L310.7 921.2L310.9 918.2L311.2 920.2L311.8 918.2L311.9 922.1L312.1 918.0L312.3 920.8L312.5 921.2L312.7 919.5L313.0 922.1L313.2 921.0L313.4 921.9L313.7 917.9L313.9 922.5L314.1 918.9L314.4 922.5L314.6 918.5L314.8 921.4L315.0 921.5L315.2 923.0L315.3 920.2L315.5 922.7L315.9 921.7L316.1 920.4L316.8 923.5L317.1 919.8L317.7 922.2L317.8 922.1L318.0 923.8L318.4 919.5L318.6 924.3L318.7 924.2L319.1 921.2L319.3 923.7L319.4 921.5L319.6 921.6L319.8 922.5L320.2 921.6L320.3 922.2L320.5 920.4L320.7 920.9L320.9 924.4L321.1 920.4L321.4 924.5L321.6 920.9L321.8 922.9L322.1 921.9L322.3 924.0L322.5 920.0L322.7 923.9L322.8 919.1L323.0 921.9L323.2 921.8L323.7 923.9L323.9 923.2L324.1 923.6L324.3 922.5L324.4 924.2L324.6 922.4L324.8 924.6L325.2 922.2L325.3 923.7L325.5 922.9L325.9 926.1L326.1 926.2L326.2 925.8L326.4 927.3L326.6 924.1L326.8 922.8L327.0 922.9L327.1 926.2L327.3 925.1L327.5 925.3L327.8 928.0L328.0 925.3L328.2 924.9L328.6 927.6L328.7 923.6L328.9 925.5L329.1 925.4L329.3 926.7L329.5 926.9L329.6 922.8L329.8 922.7L330.3 928.6L330.5 926.0L330.7 926.7L331.1 925.1L331.2 927.4L331.4 926.0L331.6 926.2L331.8 925.9L332.0 928.4L332.3 926.3L332.5 927.1L332.8 924.7L333.0 926.6L333.2 923.2L333.7 927.2L333.9 927.2L334.1 926.2L334.3 928.5L334.5 926.4L334.6 928.3L335.0 924.7L335.2 926.8L335.3 927.0L335.5 925.7L335.7 929.0L335.9 926.4L336.2 927.6L336.4 927.1L336.8 927.0L337.0 930.2L337.3 926.5L337.5 929.2L337.7 925.7L338.0 928.9L338.2 922.8L338.4 926.2L338.6 926.1L338.7 928.5L338.9 927.4L339.1 929.7" stroke="#1fa370" stroke-width="1.40" fill="none" stroke-linejoin="round" clip-path="url(#cc1)"/>
<path d="M71.1 915.6L83.2 909.6L87.0 908.1L90.9 906.9L95.0 906.1L99.2 905.5L109.2 905.3L112.2 905.0L115.1 904.5L117.7 903.5L120.6 901.9L123.3 899.8L132.2 890.5L134.9 888.0L137.0 886.5L138.8 885.8L140.8 885.8L142.9 886.7L144.9 888.1L149.9 892.5L152.4 894.4L154.9 895.9L157.2 896.7L158.6 896.9L160.3 896.8L162.9 896.1L165.3 894.4L167.4 891.8L172.2 882.7L174.4 878.1L183.3 861.7L186.5 855.6L187.1 850.3L187.4 828.9L187.8 739.4L188.3 823.6L188.7 839.7L190.5 853.2L198.5 878.0L201.3 887.9L203.5 893.9L204.4 895.7L205.5 897.3L207.1 898.6L209.2 899.6L211.5 900.0L214.2 899.9L216.4 899.4L218.7 898.7L226.9 894.9L230.1 893.7L233.5 893.1L236.5 893.4L238.9 894.1L241.4 895.4L251.6 901.8L254.6 903.2L255.1 903.7L255.3 903.6L255.5 903.8L255.8 903.8L256.2 904.1L256.4 903.9L256.6 904.4L257.3 904.2L257.6 904.6L257.8 904.2L258.0 904.8L258.2 904.6L258.3 904.9L258.5 904.7L258.9 905.1L259.1 904.7L259.2 905.5L259.4 905.0L259.6 905.3L259.8 905.3L260.3 904.9L260.8 905.9L261.2 906.0L261.6 905.5L261.7 906.0L262.1 905.8L262.5 906.4L262.8 905.9L263.3 906.4L263.5 906.3L263.9 906.7L264.1 906.0L264.2 907.0L264.4 906.7L264.8 907.3L265.0 906.5L265.1 907.2L265.3 906.4L265.7 907.4L266.2 907.5L266.4 907.2L266.6 907.5L266.7 907.1L266.9 907.6L267.3 907.5L267.6 908.1L268.0 907.4L268.2 908.2L268.5 907.4L268.7 908.1L269.1 908.4L269.2 907.8L269.6 908.7L269.8 908.1L270.1 908.3L270.3 908.6L270.7 908.3L270.8 908.9L271.2 908.9L271.7 910.1L271.9 909.1L272.1 909.8L272.3 909.5L272.5 909.9L272.8 908.3L273.2 909.5L273.4 909.2L273.5 909.3L273.7 909.2L273.9 910.6L274.1 908.8L274.4 910.7L274.6 910.7L274.8 909.3L275.1 910.1L275.5 909.0L275.7 909.4L275.9 908.8L276.0 909.8L276.2 909.2L276.4 909.6L276.6 908.9L276.7 910.2L277.1 908.3L277.3 910.0L277.5 909.9L277.6 910.7L277.8 910.2L278.2 910.5L278.4 909.8L278.5 910.3L278.9 909.7L279.1 910.9L279.2 909.8L279.6 911.9L279.8 911.3L280.0 911.6L280.1 911.3L280.3 910.1L280.7 912.5L281.0 910.1L281.2 912.4L281.4 911.5L281.6 911.4L281.7 912.9L281.9 911.1L282.3 911.7L282.5 911.3L282.6 912.7L283.0 911.3L283.2 912.3L283.4 912.1L283.7 910.2L284.1 910.9L284.6 912.9L284.8 912.4L285.0 913.3L285.3 912.5L285.7 912.6L286.0 912.2L286.4 913.6L286.6 912.3L286.8 913.9L286.9 913.4L287.1 914.0L287.3 913.1L287.5 913.2L287.8 912.3L288.0 913.3L288.5 912.0L288.7 914.9L289.1 912.0L289.3 911.9L289.4 914.3L289.6 913.0L290.0 913.3L290.1 912.3L290.5 912.6L290.7 912.0L291.0 913.0L291.4 912.8L291.8 914.5L292.1 913.6L292.3 914.3L293.0 915.2L293.2 915.0L293.4 915.3L293.7 912.7L293.9 914.4L294.1 913.0L294.4 915.2L294.8 913.2L295.0 913.1L295.1 915.3L295.5 913.7L296.0 916.3L296.2 916.0L296.4 916.8L296.6 916.8L296.8 915.3L296.9 915.8L297.1 914.0L297.3 915.3L297.5 914.0L297.6 915.2L298.0 914.7L298.4 917.5L298.5 917.4L298.7 916.8L298.9 913.7L299.3 917.9L299.6 915.9L299.8 917.5L300.0 916.4L300.2 918.6L300.5 915.5L301.0 919.3L301.2 919.3L301.4 916.4L301.6 917.9L301.8 914.9L301.9 916.3L302.1 915.6L302.3 920.9L302.5 916.7L302.7 916.1L303.4 918.6L303.5 916.8L304.3 917.3L304.6 919.3L304.8 915.5L305.0 915.4L305.2 916.9L305.3 915.0L305.7 917.5L306.0 917.5L306.2 916.8L306.4 916.8L306.8 918.0L306.9 917.5L307.1 918.0L307.3 919.5L307.7 917.2L307.8 917.9L308.0 916.5L308.2 918.7L308.4 916.6L308.5 917.9L308.7 918.0L308.9 916.3L309.1 919.8L309.3 919.4L309.4 917.2L309.8 918.0L310.2 922.0L310.3 920.0L310.5 920.8L310.7 918.0L311.0 921.1L311.2 917.6L311.4 919.8L311.6 918.8L311.9 918.6L312.1 917.8L312.5 921.8L312.7 919.8L312.8 921.5L313.0 921.6L313.2 921.3L313.4 918.8L313.6 919.0L313.7 921.3L313.9 918.7L314.1 918.4L315.0 922.4L315.2 922.0L315.5 922.6L315.9 921.4L316.1 923.7L316.2 921.1L316.4 924.2L316.8 922.4L316.9 923.5L317.1 921.4L317.3 925.6L317.5 919.6L317.7 924.2L318.0 921.1L318.2 924.7L318.6 921.6L318.7 924.3L319.1 922.1L319.3 924.4L319.4 922.8L319.6 923.2L319.8 922.3L320.2 925.4L320.5 922.3L320.7 922.5L320.9 922.3L321.2 925.2L321.4 922.3L321.6 923.0L321.8 922.2L321.9 924.6L322.1 922.9L322.3 924.4L322.5 920.8L322.7 925.8L322.8 922.1L323.0 925.1L323.2 923.8L323.4 923.8L323.7 922.5L324.1 925.0L324.3 923.5L324.6 924.3L325.0 921.6L325.3 924.7L325.7 921.4L325.9 921.8L326.1 923.9L326.2 924.4L326.4 923.7L326.6 924.4L326.8 926.8L327.0 922.8L327.1 926.2L327.3 926.7L327.7 923.5L327.8 925.1L328.0 923.6L328.2 924.3L328.4 924.3L328.7 927.8L328.9 927.3L329.1 923.3L329.3 927.7L329.5 923.8L329.8 927.5L330.2 924.7L330.3 926.9L330.5 927.0L330.7 924.4L330.9 926.5L331.1 926.7L331.2 924.6L331.8 926.7L332.0 926.5L332.1 922.6L332.5 929.3L332.7 926.4L332.8 927.1L333.0 925.4L333.2 927.4L333.4 925.7L333.7 927.4L333.9 926.7L334.1 928.0L334.3 924.2L334.6 926.9L334.8 926.1L335.0 928.1L335.5 926.3L335.7 927.1L335.9 926.7L336.1 925.4L336.4 929.5L336.6 927.9L336.8 928.0L337.0 927.0L337.1 930.9L337.3 926.4L337.5 930.0L337.7 926.6L338.0 929.7L338.6 928.4L338.7 930.2L339.1 927.5" stroke="#b57ce8" stroke-width="1.40" fill="none" stroke-linejoin="round" clip-path="url(#cc1)"/>
<path d="M71.10 918.01H69.10M71.10 891.04H69.10M71.10 864.06H69.10M71.10 837.09H69.10M71.10 810.11H69.10M71.10 783.14H69.10M71.10 756.16H69.10M71.10 729.19H69.10M71.10 931.50H67.10M71.10 904.52H67.10M71.10 877.55H67.10M71.10 850.58H67.10M71.10 823.60H67.10M71.10 796.62H67.10M71.10 769.65H67.10M71.10 742.68H67.10M71.10 715.70H67.10M115.77 931.50V933.50M205.10 931.50V933.50M294.43 931.50V933.50M71.10 931.50V935.50M160.43 931.50V935.50M249.77 931.50V935.50M339.10 931.50V935.50" stroke="#222" stroke-width="1.30" fill="none"/>
<rect x="71.10" y="715.70" width="268.00" height="215.80" stroke="#222" stroke-width="1.30" fill="none"/>
<text x="0.0" y="0.0" font-size="13.40" text-anchor="end" font-weight="bold" transform="translate(63.90 936.15) scale(1 1.08)">-80</text>
<text x="0.0" y="0.0" font-size="13.40" text-anchor="end" font-weight="bold" transform="translate(63.90 909.17) scale(1 1.08)">-70</text>
<text x="0.0" y="0.0" font-size="13.40" text-anchor="end" font-weight="bold" transform="translate(63.90 882.20) scale(1 1.08)">-60</text>
<text x="0.0" y="0.0" font-size="13.40" text-anchor="end" font-weight="bold" transform="translate(63.90 855.23) scale(1 1.08)">-50</text>
<text x="0.0" y="0.0" font-size="13.40" text-anchor="end" font-weight="bold" transform="translate(63.90 828.25) scale(1 1.08)">-40</text>
<text x="0.0" y="0.0" font-size="13.40" text-anchor="end" font-weight="bold" transform="translate(63.90 801.27) scale(1 1.08)">-30</text>
<text x="0.0" y="0.0" font-size="13.40" text-anchor="end" font-weight="bold" transform="translate(63.90 774.30) scale(1 1.08)">-20</text>
<text x="0.0" y="0.0" font-size="13.40" text-anchor="end" font-weight="bold" transform="translate(63.90 747.33) scale(1 1.08)">-10</text>
<text x="0.0" y="0.0" font-size="13.40" text-anchor="end" font-weight="bold" transform="translate(63.90 720.35) scale(1 1.08)">0</text>
<text x="0.0" y="0.0" font-size="13.40" text-anchor="middle" font-weight="bold" transform="translate(71.10 949.60) scale(1 1.08)">1550</text>
<text x="0.0" y="0.0" font-size="13.40" text-anchor="middle" font-weight="bold" transform="translate(160.43 949.60) scale(1 1.08)">1560</text>
<text x="0.0" y="0.0" font-size="13.40" text-anchor="middle" font-weight="bold" transform="translate(249.77 949.60) scale(1 1.08)">1570</text>
<text x="0.0" y="0.0" font-size="13.40" text-anchor="middle" font-weight="bold" transform="translate(339.10 949.60) scale(1 1.08)">1580</text>
<path d="M272.3 728.30H300.8" stroke="#111111" stroke-width="1.3"/>
<text x="304.0" y="732.9" font-size="12.30" text-anchor="start" font-weight="bold" textLength="27.6" lengthAdjust="spacing">20 °C</text>
<path d="M272.3 743.65H300.8" stroke="#e8131b" stroke-width="1.3"/>
<text x="304.0" y="748.2" font-size="12.30" text-anchor="start" font-weight="bold" textLength="27.6" lengthAdjust="spacing">22 °C</text>
<path d="M272.3 759.00H300.8" stroke="#2b6be0" stroke-width="1.3"/>
<text x="304.0" y="763.6" font-size="12.30" text-anchor="start" font-weight="bold" textLength="27.6" lengthAdjust="spacing">24 °C</text>
<path d="M272.3 774.35H300.8" stroke="#1fa370" stroke-width="1.3"/>
<text x="304.0" y="778.9" font-size="12.30" text-anchor="start" font-weight="bold" textLength="27.6" lengthAdjust="spacing">26 °C</text>
<path d="M272.3 789.70H300.8" stroke="#b57ce8" stroke-width="1.3"/>
<text x="304.0" y="794.3" font-size="12.30" text-anchor="start" font-weight="bold" textLength="27.6" lengthAdjust="spacing">28 °C</text>
<path d="M180.5 731.7H207.0" stroke="#111" stroke-width="1.3"/>
<path d="M176.5 731.7L182.5 729.1L182.5 734.3Z" fill="#111"/>
<text x="17.7" y="704.0" font-size="20.50" text-anchor="start" font-weight="bold" >S3</text>
<text x="206.0" y="964.8" font-size="14.30" text-anchor="middle" font-weight="bold" >Wavelength (nm)</text>
<text x="0.0" y="0.0" font-size="14.40" text-anchor="middle" font-weight="bold" transform="translate(43.0 822.9) rotate(-90)" textLength="127.7" lengthAdjust="spacingAndGlyphs">Transimission (dB)</text>
<text x="188.1" y="1004.8" font-size="19.20" font-weight="bold" textLength="30.6" lengthAdjust="spacingAndGlyphs">(c1)</text>
<path d="M477.39 71.65L704.31 238.03" stroke="#e3202a" stroke-width="1.50"/>
<circle cx="477.39" cy="71.65" r="1.5" fill="#2a2ad0"/>
<path d="M477.39 71.10V72.19M474.99 71.10H479.79M474.99 72.19H479.79" stroke="#1a1a30" stroke-width="1.1"/>
<circle cx="522.77" cy="99.00" r="1.5" fill="#2a2ad0"/>
<path d="M522.77 97.36V100.65M520.38 97.36H525.17M520.38 100.65H525.17" stroke="#1a1a30" stroke-width="1.1"/>
<circle cx="568.16" cy="135.11" r="1.5" fill="#2a2ad0"/>
<path d="M568.16 133.75V136.48M565.76 133.75H570.56M565.76 136.48H570.56" stroke="#1a1a30" stroke-width="1.1"/>
<circle cx="613.54" cy="171.22" r="1.5" fill="#2a2ad0"/>
<path d="M613.54 169.58V172.87M611.14 169.58H615.94M611.14 172.87H615.94" stroke="#1a1a30" stroke-width="1.1"/>
<circle cx="658.92" cy="199.13" r="1.5" fill="#2a2ad0"/>
<path d="M658.92 196.94V201.32M656.52 196.94H661.32M656.52 201.32H661.32" stroke="#1a1a30" stroke-width="1.1"/>
<circle cx="704.31" cy="238.52" r="1.5" fill="#2a2ad0"/>
<path d="M704.31 237.97V239.07M701.91 237.97H706.71M701.91 239.07H706.71" stroke="#1a1a30" stroke-width="1.1"/>
<path d="M454.70 247.82H452.70M454.70 220.47H452.70M454.70 193.11H452.70M454.70 165.75H452.70M454.70 138.40H452.70M454.70 111.04H452.70M454.70 83.68H452.70M454.70 56.33H452.70M454.70 261.50H450.70M454.70 234.14H450.70M454.70 206.79H450.70M454.70 179.43H450.70M454.70 152.07H450.70M454.70 124.72H450.70M454.70 97.36H450.70M454.70 70.01H450.70M454.70 42.65H450.70M500.08 261.50V263.50M545.47 261.50V263.50M590.85 261.50V263.50M636.23 261.50V263.50M681.62 261.50V263.50M477.39 261.50V265.50M522.77 261.50V265.50M568.16 261.50V265.50M613.54 261.50V265.50M658.92 261.50V265.50M704.31 261.50V265.50" stroke="#222" stroke-width="1.30" fill="none"/>
<rect x="454.70" y="42.65" width="272.30" height="218.85" stroke="#222" stroke-width="1.30" fill="none"/>
<text x="0.0" y="0.0" font-size="13.40" text-anchor="end" font-weight="bold" transform="translate(447.50 266.15) scale(1 1.08)">1555.0</text>
<text x="0.0" y="0.0" font-size="13.40" text-anchor="end" font-weight="bold" transform="translate(447.50 238.79) scale(1 1.08)">1555.5</text>
<text x="0.0" y="0.0" font-size="13.40" text-anchor="end" font-weight="bold" transform="translate(447.50 211.44) scale(1 1.08)">1556.0</text>
<text x="0.0" y="0.0" font-size="13.40" text-anchor="end" font-weight="bold" transform="translate(447.50 184.08) scale(1 1.08)">1556.5</text>
<text x="0.0" y="0.0" font-size="13.40" text-anchor="end" font-weight="bold" transform="translate(447.50 156.72) scale(1 1.08)">1557.0</text>
<text x="0.0" y="0.0" font-size="13.40" text-anchor="end" font-weight="bold" transform="translate(447.50 129.37) scale(1 1.08)">1557.5</text>
<text x="0.0" y="0.0" font-size="13.40" text-anchor="end" font-weight="bold" transform="translate(447.50 102.01) scale(1 1.08)">1558.0</text>
<text x="0.0" y="0.0" font-size="13.40" text-anchor="end" font-weight="bold" transform="translate(447.50 74.66) scale(1 1.08)">1558.5</text>
<text x="0.0" y="0.0" font-size="13.40" text-anchor="end" font-weight="bold" transform="translate(447.50 47.30) scale(1 1.08)">1559.0</text>
<text x="0.0" y="0.0" font-size="13.40" text-anchor="middle" font-weight="bold" transform="translate(477.39 279.60) scale(1 1.08)">20</text>
<text x="0.0" y="0.0" font-size="13.40" text-anchor="middle" font-weight="bold" transform="translate(522.77 279.60) scale(1 1.08)">22</text>
<text x="0.0" y="0.0" font-size="13.40" text-anchor="middle" font-weight="bold" transform="translate(568.16 279.60) scale(1 1.08)">24</text>
<text x="0.0" y="0.0" font-size="13.40" text-anchor="middle" font-weight="bold" transform="translate(613.54 279.60) scale(1 1.08)">26</text>
<text x="0.0" y="0.0" font-size="13.40" text-anchor="middle" font-weight="bold" transform="translate(658.92 279.60) scale(1 1.08)">28</text>
<text x="0.0" y="0.0" font-size="13.40" text-anchor="middle" font-weight="bold" transform="translate(704.31 279.60) scale(1 1.08)">30</text>
<circle cx="482.4" cy="194.2" r="1.4" fill="#2a2ad0"/>
<text x="498.7" y="197.8" font-size="12.30" text-anchor="start" font-weight="bold" >Experimental date</text>
<path d="M467.4 208.70H495.9" stroke="#e3202a" stroke-width="1.3"/>
<text x="498.7" y="213.2" font-size="12.30" text-anchor="start" font-weight="bold" >Linear fit</text>
<text x="498.7" y="228.7" font-size="12.30" text-anchor="start" font-weight="bold" >R<tspan font-size="8" dy="-5">2</tspan><tspan dy="5">= 0.9998</tspan></text>
<text x="498.7" y="243.7" font-size="12.30" text-anchor="start" font-weight="bold" >K = - 0.3041 nm/°C</text>
<text x="382.0" y="35.2" font-size="20.50" text-anchor="start" font-weight="bold" >S1</text>
<text x="585.7" y="294.6" font-size="14.30" text-anchor="middle" font-weight="bold" >Temperature (°C)</text>
<text x="0.0" y="0.0" font-size="13.20" text-anchor="middle" font-weight="bold" transform="translate(406.0 154.2) rotate(-90)" textLength="101.5" lengthAdjust="spacingAndGlyphs">Wavelength(nm)</text>
<text x="564.2" y="320.4" font-size="19.20" font-weight="bold" textLength="31.3" lengthAdjust="spacingAndGlyphs">(a2)</text>
<path d="M478.04 390.38L703.46 568.62" stroke="#e3202a" stroke-width="2.10"/>
<circle cx="478.04" cy="390.38" r="1.5" fill="#2a2ad0"/>
<path d="M478.04 389.51V391.25M475.64 389.51H480.44M475.64 391.25H480.44" stroke="#1a1a30" stroke-width="1.1"/>
<circle cx="523.12" cy="425.97" r="1.5" fill="#2a2ad0"/>
<path d="M523.12 425.24V426.70M520.73 425.24H525.52M520.73 426.70H525.52" stroke="#1a1a30" stroke-width="1.1"/>
<circle cx="568.21" cy="463.01" r="1.5" fill="#2a2ad0"/>
<path d="M568.21 460.83V465.19M565.81 460.83H570.61M565.81 465.19H570.61" stroke="#1a1a30" stroke-width="1.1"/>
<circle cx="613.29" cy="498.60" r="1.5" fill="#2a2ad0"/>
<path d="M613.29 496.42V500.78M610.89 496.42H615.69M610.89 500.78H615.69" stroke="#1a1a30" stroke-width="1.1"/>
<circle cx="658.38" cy="532.74" r="1.5" fill="#2a2ad0"/>
<path d="M658.38 531.87V533.61M655.98 531.87H660.77M655.98 533.61H660.77" stroke="#1a1a30" stroke-width="1.1"/>
<circle cx="703.46" cy="567.60" r="1.5" fill="#2a2ad0"/>
<path d="M703.46 566.88V568.33M701.06 566.88H705.86M701.06 568.33H705.86" stroke="#1a1a30" stroke-width="1.1"/>
<path d="M455.50 592.30H453.50M455.50 555.98H453.50M455.50 519.67H453.50M455.50 483.35H453.50M455.50 447.03H453.50M455.50 410.72H453.50M455.50 374.40H453.50M455.50 574.14H451.50M455.50 537.82H451.50M455.50 501.51H451.50M455.50 465.19H451.50M455.50 428.88H451.50M455.50 392.56H451.50M500.58 592.30V594.30M545.67 592.30V594.30M590.75 592.30V594.30M635.83 592.30V594.30M680.92 592.30V594.30M478.04 592.30V596.30M523.12 592.30V596.30M568.21 592.30V596.30M613.29 592.30V596.30M658.38 592.30V596.30M703.46 592.30V596.30" stroke="#222" stroke-width="1.30" fill="none"/>
<rect x="455.50" y="374.40" width="270.50" height="217.90" stroke="#222" stroke-width="1.30" fill="none"/>
<text x="0.0" y="0.0" font-size="13.40" text-anchor="end" font-weight="bold" transform="translate(448.30 578.79) scale(1 1.08)">1552.5</text>
<text x="0.0" y="0.0" font-size="13.40" text-anchor="end" font-weight="bold" transform="translate(448.30 542.47) scale(1 1.08)">1553.0</text>
<text x="0.0" y="0.0" font-size="13.40" text-anchor="end" font-weight="bold" transform="translate(448.30 506.16) scale(1 1.08)">1553.5</text>
<text x="0.0" y="0.0" font-size="13.40" text-anchor="end" font-weight="bold" transform="translate(448.30 469.84) scale(1 1.08)">1554.0</text>
<text x="0.0" y="0.0" font-size="13.40" text-anchor="end" font-weight="bold" transform="translate(448.30 433.52) scale(1 1.08)">1554.5</text>
<text x="0.0" y="0.0" font-size="13.40" text-anchor="end" font-weight="bold" transform="translate(448.30 397.21) scale(1 1.08)">1555.0</text>
<text x="0.0" y="0.0" font-size="13.40" text-anchor="middle" font-weight="bold" transform="translate(478.04 610.40) scale(1 1.08)">20</text>
<text x="0.0" y="0.0" font-size="13.40" text-anchor="middle" font-weight="bold" transform="translate(523.12 610.40) scale(1 1.08)">22</text>
<text x="0.0" y="0.0" font-size="13.40" text-anchor="middle" font-weight="bold" transform="translate(568.21 610.40) scale(1 1.08)">24</text>
<text x="0.0" y="0.0" font-size="13.40" text-anchor="middle" font-weight="bold" transform="translate(613.29 610.40) scale(1 1.08)">26</text>
<text x="0.0" y="0.0" font-size="13.40" text-anchor="middle" font-weight="bold" transform="translate(658.38 610.40) scale(1 1.08)">28</text>
<text x="0.0" y="0.0" font-size="13.40" text-anchor="middle" font-weight="bold" transform="translate(703.46 610.40) scale(1 1.08)">30</text>
<circle cx="483.6" cy="525.7" r="1.4" fill="#2a2ad0"/>
<text x="499.9" y="529.3" font-size="12.30" text-anchor="start" font-weight="bold" >Experimental date</text>
<path d="M468.6 540.20H497.1" stroke="#e3202a" stroke-width="1.3"/>
<text x="499.9" y="544.7" font-size="12.30" text-anchor="start" font-weight="bold" >Linear fit</text>
<text x="502.9" y="563.2" font-size="12.30" text-anchor="start" font-weight="bold" >R<tspan font-size="8" dy="-5">2</tspan><tspan dy="5">= 0.9997</tspan></text>
<text x="502.9" y="578.8" font-size="12.30" text-anchor="start" font-weight="bold" >K = - 0.2454 nm/°C</text>
<text x="382.0" y="368.2" font-size="20.50" text-anchor="start" font-weight="bold" >S2</text>
<text x="585.1" y="625.6" font-size="14.30" text-anchor="middle" font-weight="bold" >Temperature (°C)</text>
<text x="0.0" y="0.0" font-size="13.20" text-anchor="middle" font-weight="bold" transform="translate(406.0 485.6) rotate(-90)" textLength="101.5" lengthAdjust="spacingAndGlyphs">Wavelength(nm)</text>
<text x="555.0" y="653.3" font-size="19.20" font-weight="bold" textLength="34.2" lengthAdjust="spacingAndGlyphs">(b2)</text>
<path d="M480.80 735.05L693.60 921.17" stroke="#e3202a" stroke-width="1.50"/>
<circle cx="480.80" cy="731.48" r="1.5" fill="#2a2ad0"/>
<path d="M480.80 727.02V735.94M478.40 727.02H483.20M478.40 735.94H483.20" stroke="#1a1a30" stroke-width="1.1"/>
<circle cx="534.00" cy="783.22" r="1.5" fill="#2a2ad0"/>
<path d="M534.00 777.87V788.57M531.60 777.87H536.40M531.60 788.57H536.40" stroke="#1a1a30" stroke-width="1.1"/>
<circle cx="587.20" cy="829.61" r="1.5" fill="#2a2ad0"/>
<path d="M587.20 827.83V831.39M584.80 827.83H589.60M584.80 831.39H589.60" stroke="#1a1a30" stroke-width="1.1"/>
<circle cx="640.40" cy="874.21" r="1.5" fill="#2a2ad0"/>
<path d="M640.40 872.43V876.00M638.00 872.43H642.80M638.00 876.00H642.80" stroke="#1a1a30" stroke-width="1.1"/>
<circle cx="693.60" cy="920.60" r="1.5" fill="#2a2ad0"/>
<path d="M693.60 916.14V925.06M691.20 916.14H696.00M691.20 925.06H696.00" stroke="#1a1a30" stroke-width="1.1"/>
<path d="M454.20 914.36H452.20M454.20 878.68H452.20M454.20 842.99H452.20M454.20 807.31H452.20M454.20 771.62H452.20M454.20 735.94H452.20M454.20 932.20H450.20M454.20 896.52H450.20M454.20 860.83H450.20M454.20 825.15H450.20M454.20 789.47H450.20M454.20 753.78H450.20M454.20 718.10H450.20M507.40 932.20V934.20M560.60 932.20V934.20M613.80 932.20V934.20M667.00 932.20V934.20M480.80 932.20V936.20M534.00 932.20V936.20M587.20 932.20V936.20M640.40 932.20V936.20M693.60 932.20V936.20" stroke="#222" stroke-width="1.30" fill="none"/>
<rect x="454.20" y="718.10" width="266.00" height="214.10" stroke="#222" stroke-width="1.30" fill="none"/>
<text x="0.0" y="0.0" font-size="13.40" text-anchor="end" font-weight="bold" transform="translate(447.00 936.85) scale(1 1.08)">1563.0</text>
<text x="0.0" y="0.0" font-size="13.40" text-anchor="end" font-weight="bold" transform="translate(447.00 901.17) scale(1 1.08)">1563.2</text>
<text x="0.0" y="0.0" font-size="13.40" text-anchor="end" font-weight="bold" transform="translate(447.00 865.48) scale(1 1.08)">1563.4</text>
<text x="0.0" y="0.0" font-size="13.40" text-anchor="end" font-weight="bold" transform="translate(447.00 829.80) scale(1 1.08)">1563.6</text>
<text x="0.0" y="0.0" font-size="13.40" text-anchor="end" font-weight="bold" transform="translate(447.00 794.12) scale(1 1.08)">1563.8</text>
<text x="0.0" y="0.0" font-size="13.40" text-anchor="end" font-weight="bold" transform="translate(447.00 758.43) scale(1 1.08)">1564.0</text>
<text x="0.0" y="0.0" font-size="13.40" text-anchor="end" font-weight="bold" transform="translate(447.00 722.75) scale(1 1.08)">1564.2</text>
<text x="0.0" y="0.0" font-size="13.40" text-anchor="middle" font-weight="bold" transform="translate(480.80 950.30) scale(1 1.08)">20</text>
<text x="0.0" y="0.0" font-size="13.40" text-anchor="middle" font-weight="bold" transform="translate(534.00 950.30) scale(1 1.08)">22</text>
<text x="0.0" y="0.0" font-size="13.40" text-anchor="middle" font-weight="bold" transform="translate(587.20 950.30) scale(1 1.08)">24</text>
<text x="0.0" y="0.0" font-size="13.40" text-anchor="middle" font-weight="bold" transform="translate(640.40 950.30) scale(1 1.08)">26</text>
<text x="0.0" y="0.0" font-size="13.40" text-anchor="middle" font-weight="bold" transform="translate(693.60 950.30) scale(1 1.08)">28</text>
<circle cx="482.4" cy="866.7" r="1.4" fill="#2a2ad0"/>
<text x="498.7" y="870.3" font-size="12.30" text-anchor="start" font-weight="bold" >Experimental date</text>
<path d="M467.4 881.20H495.9" stroke="#e3202a" stroke-width="1.3"/>
<text x="498.7" y="885.7" font-size="12.30" text-anchor="start" font-weight="bold" >Linear fit</text>
<text x="498.7" y="900.0" font-size="12.30" text-anchor="start" font-weight="bold" >R<tspan font-size="8" dy="-5">2</tspan><tspan dy="5">= 0.9991</tspan></text>
<text x="498.7" y="915.6" font-size="12.30" text-anchor="start" font-weight="bold" >K = - 0.1304 nm/°C</text>
<text x="382.0" y="703.7" font-size="20.50" text-anchor="start" font-weight="bold" >S3</text>
<text x="582.4" y="965.2" font-size="14.30" text-anchor="middle" font-weight="bold" >Temperature (°C)</text>
<text x="0.0" y="0.0" font-size="13.20" text-anchor="middle" font-weight="bold" transform="translate(406.0 827.7) rotate(-90)" textLength="101.5" lengthAdjust="spacingAndGlyphs">Wavelength(nm)</text>
<text x="564.2" y="1004.1" font-size="19.20" font-weight="bold" textLength="30.6" lengthAdjust="spacingAndGlyphs">(c2)</text>
</svg></body></html>
